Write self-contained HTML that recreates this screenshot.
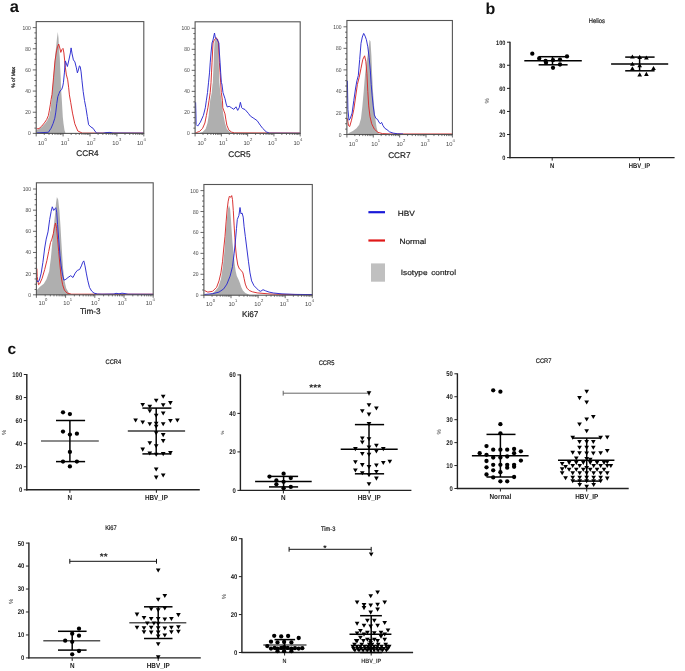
<!DOCTYPE html>
<html><head><meta charset="utf-8"><style>
html,body{margin:0;padding:0;background:#fff;}
body{width:685px;height:671px;overflow:hidden;}
svg{display:block;will-change:transform;text-rendering:geometricPrecision;font-family:"Liberation Sans",sans-serif;}
</style></head><body>
<svg width="685" height="671" viewBox="0 0 685 671" font-family="Liberation Sans, sans-serif">
<rect width="685" height="671" fill="#fff"/>
<text x="9.70" y="12.20" font-size="16.5" text-anchor="start" font-weight="bold" fill="#111" >a</text>
<text x="485.60" y="14.20" font-size="16.0" text-anchor="start" font-weight="bold" fill="#111" >b</text>
<text x="7.40" y="354.00" font-size="15.5" text-anchor="start" font-weight="bold" fill="#111" >c</text>
<polygon points="36.40,133.40 36.40,130.50 38.00,129.60 40.00,128.30 42.50,126.30 45.10,123.50 47.30,120.50 49.10,116.80 50.50,110.00 51.50,100.00 52.00,94.00 52.80,85.00 53.50,76.00 54.30,66.00 55.00,58.00 56.00,48.00 57.00,38.00 57.80,32.00 58.50,38.00 59.00,48.00 59.80,58.00 60.20,68.00 60.70,78.00 61.00,88.00 61.50,95.00 62.00,103.00 62.40,110.00 62.80,117.00 63.50,123.50 64.50,130.20 65.50,133.30 65.50,133.40" fill="#afafaf"/>
<polyline points="36.60,128.90 39.00,128.60 41.70,126.20 44.40,122.90 46.70,119.50 48.40,115.50 49.40,110.10 50.30,104.80 51.10,99.40 52.00,94.50 53.50,77.90 55.00,60.90 56.50,50.90 57.50,46.90 58.70,44.00 59.80,48.00 60.80,52.40 62.00,49.40 63.00,48.40 63.90,52.90 64.70,60.90 65.40,67.90 66.40,74.90 67.70,79.80 68.70,87.80 69.40,94.90 70.70,102.30 72.50,113.10 74.80,123.80 77.80,131.00 82.30,133.10 143.80,133.10" fill="none" stroke="#d82a2a" stroke-width="0.95" stroke-linejoin="round"/>
<polyline points="36.60,132.90 42.00,132.60 48.40,132.30 51.10,128.20 53.10,123.50 54.80,118.20 55.80,112.10 56.80,103.40 57.80,96.70 59.00,93.50 60.00,91.00 61.70,89.50 62.80,86.00 63.40,82.80 64.40,72.90 64.90,65.90 65.40,60.90 66.10,62.90 67.40,66.50 68.90,60.00 70.40,52.90 71.10,47.90 72.10,53.90 73.40,59.90 74.90,61.90 76.40,67.90 77.40,72.90 78.40,69.90 79.40,65.90 80.20,66.50 81.10,71.90 82.00,80.80 83.20,91.60 84.50,100.50 85.90,107.70 87.30,116.60 88.60,124.70 90.90,127.00 93.10,128.30 94.90,131.00 96.60,133.10 103.00,133.20 106.00,132.60 110.00,132.40 113.00,133.00 143.80,133.20" fill="none" stroke="#2a2ad0" stroke-width="0.95" stroke-linejoin="round"/>
<rect x="36.20" y="21.60" width="107.60" height="111.80" fill="none" stroke="#555" stroke-width="1.1"/>
<line x1="32.80" y1="133.40" x2="36.20" y2="133.40" stroke="#444" stroke-width="0.8" />
<line x1="34.40" y1="128.11" x2="36.20" y2="128.11" stroke="#444" stroke-width="0.8" />
<line x1="34.40" y1="122.82" x2="36.20" y2="122.82" stroke="#444" stroke-width="0.8" />
<line x1="34.40" y1="117.53" x2="36.20" y2="117.53" stroke="#444" stroke-width="0.8" />
<line x1="32.80" y1="112.24" x2="36.20" y2="112.24" stroke="#444" stroke-width="0.8" />
<line x1="34.40" y1="106.95" x2="36.20" y2="106.95" stroke="#444" stroke-width="0.8" />
<line x1="34.40" y1="101.66" x2="36.20" y2="101.66" stroke="#444" stroke-width="0.8" />
<line x1="34.40" y1="96.37" x2="36.20" y2="96.37" stroke="#444" stroke-width="0.8" />
<line x1="32.80" y1="91.08" x2="36.20" y2="91.08" stroke="#444" stroke-width="0.8" />
<line x1="34.40" y1="85.79" x2="36.20" y2="85.79" stroke="#444" stroke-width="0.8" />
<line x1="34.40" y1="80.50" x2="36.20" y2="80.50" stroke="#444" stroke-width="0.8" />
<line x1="34.40" y1="75.21" x2="36.20" y2="75.21" stroke="#444" stroke-width="0.8" />
<line x1="32.80" y1="69.92" x2="36.20" y2="69.92" stroke="#444" stroke-width="0.8" />
<line x1="34.40" y1="64.63" x2="36.20" y2="64.63" stroke="#444" stroke-width="0.8" />
<line x1="34.40" y1="59.34" x2="36.20" y2="59.34" stroke="#444" stroke-width="0.8" />
<line x1="34.40" y1="54.05" x2="36.20" y2="54.05" stroke="#444" stroke-width="0.8" />
<line x1="32.80" y1="48.76" x2="36.20" y2="48.76" stroke="#444" stroke-width="0.8" />
<line x1="34.40" y1="43.47" x2="36.20" y2="43.47" stroke="#444" stroke-width="0.8" />
<line x1="34.40" y1="38.18" x2="36.20" y2="38.18" stroke="#444" stroke-width="0.8" />
<line x1="34.40" y1="32.89" x2="36.20" y2="32.89" stroke="#444" stroke-width="0.8" />
<line x1="32.80" y1="27.60" x2="36.20" y2="27.60" stroke="#444" stroke-width="0.8" />
<text transform="translate(30.80 135.40) scale(0.85 1)" font-size="5.8" text-anchor="end" fill="#444">0</text>
<text transform="translate(30.80 114.24) scale(0.85 1)" font-size="5.8" text-anchor="end" fill="#444">20</text>
<text transform="translate(30.80 93.08) scale(0.85 1)" font-size="5.8" text-anchor="end" fill="#444">40</text>
<text transform="translate(30.80 71.92) scale(0.85 1)" font-size="5.8" text-anchor="end" fill="#444">60</text>
<text transform="translate(30.80 50.76) scale(0.85 1)" font-size="5.8" text-anchor="end" fill="#444">80</text>
<text transform="translate(30.80 29.60) scale(0.85 1)" font-size="5.8" text-anchor="end" fill="#444">100</text>
<line x1="36.20" y1="133.40" x2="36.20" y2="136.40" stroke="#444" stroke-width="0.8" />
<line x1="44.30" y1="133.40" x2="44.30" y2="135.00" stroke="#444" stroke-width="0.7" />
<line x1="49.03" y1="133.40" x2="49.03" y2="135.00" stroke="#444" stroke-width="0.7" />
<line x1="52.40" y1="133.40" x2="52.40" y2="135.00" stroke="#444" stroke-width="0.7" />
<line x1="55.00" y1="133.40" x2="55.00" y2="135.00" stroke="#444" stroke-width="0.7" />
<line x1="57.13" y1="133.40" x2="57.13" y2="135.00" stroke="#444" stroke-width="0.7" />
<line x1="58.93" y1="133.40" x2="58.93" y2="135.00" stroke="#444" stroke-width="0.7" />
<line x1="60.49" y1="133.40" x2="60.49" y2="135.00" stroke="#444" stroke-width="0.7" />
<line x1="61.87" y1="133.40" x2="61.87" y2="135.00" stroke="#444" stroke-width="0.7" />
<line x1="63.10" y1="133.40" x2="63.10" y2="136.40" stroke="#444" stroke-width="0.8" />
<line x1="71.20" y1="133.40" x2="71.20" y2="135.00" stroke="#444" stroke-width="0.7" />
<line x1="75.93" y1="133.40" x2="75.93" y2="135.00" stroke="#444" stroke-width="0.7" />
<line x1="79.30" y1="133.40" x2="79.30" y2="135.00" stroke="#444" stroke-width="0.7" />
<line x1="81.90" y1="133.40" x2="81.90" y2="135.00" stroke="#444" stroke-width="0.7" />
<line x1="84.03" y1="133.40" x2="84.03" y2="135.00" stroke="#444" stroke-width="0.7" />
<line x1="85.83" y1="133.40" x2="85.83" y2="135.00" stroke="#444" stroke-width="0.7" />
<line x1="87.39" y1="133.40" x2="87.39" y2="135.00" stroke="#444" stroke-width="0.7" />
<line x1="88.77" y1="133.40" x2="88.77" y2="135.00" stroke="#444" stroke-width="0.7" />
<line x1="90.00" y1="133.40" x2="90.00" y2="136.40" stroke="#444" stroke-width="0.8" />
<line x1="98.10" y1="133.40" x2="98.10" y2="135.00" stroke="#444" stroke-width="0.7" />
<line x1="102.83" y1="133.40" x2="102.83" y2="135.00" stroke="#444" stroke-width="0.7" />
<line x1="106.20" y1="133.40" x2="106.20" y2="135.00" stroke="#444" stroke-width="0.7" />
<line x1="108.80" y1="133.40" x2="108.80" y2="135.00" stroke="#444" stroke-width="0.7" />
<line x1="110.93" y1="133.40" x2="110.93" y2="135.00" stroke="#444" stroke-width="0.7" />
<line x1="112.73" y1="133.40" x2="112.73" y2="135.00" stroke="#444" stroke-width="0.7" />
<line x1="114.29" y1="133.40" x2="114.29" y2="135.00" stroke="#444" stroke-width="0.7" />
<line x1="115.67" y1="133.40" x2="115.67" y2="135.00" stroke="#444" stroke-width="0.7" />
<line x1="116.90" y1="133.40" x2="116.90" y2="136.40" stroke="#444" stroke-width="0.8" />
<line x1="125.00" y1="133.40" x2="125.00" y2="135.00" stroke="#444" stroke-width="0.7" />
<line x1="129.73" y1="133.40" x2="129.73" y2="135.00" stroke="#444" stroke-width="0.7" />
<line x1="133.10" y1="133.40" x2="133.10" y2="135.00" stroke="#444" stroke-width="0.7" />
<line x1="135.70" y1="133.40" x2="135.70" y2="135.00" stroke="#444" stroke-width="0.7" />
<line x1="137.83" y1="133.40" x2="137.83" y2="135.00" stroke="#444" stroke-width="0.7" />
<line x1="139.63" y1="133.40" x2="139.63" y2="135.00" stroke="#444" stroke-width="0.7" />
<line x1="141.19" y1="133.40" x2="141.19" y2="135.00" stroke="#444" stroke-width="0.7" />
<line x1="142.57" y1="133.40" x2="142.57" y2="135.00" stroke="#444" stroke-width="0.7" />
<line x1="143.80" y1="133.40" x2="143.80" y2="136.40" stroke="#444" stroke-width="0.8" />
<text x="37.90" y="144.80" font-size="5.8" fill="#444">10</text>
<text x="44.50" y="140.70" font-size="4.2" fill="#444">0</text>
<text x="60.70" y="144.80" font-size="5.8" fill="#444">10</text>
<text x="67.30" y="140.70" font-size="4.2" fill="#444">1</text>
<text x="86.60" y="144.80" font-size="5.8" fill="#444">10</text>
<text x="93.20" y="140.70" font-size="4.2" fill="#444">2</text>
<text x="112.30" y="144.80" font-size="5.8" fill="#444">10</text>
<text x="118.90" y="140.70" font-size="4.2" fill="#444">3</text>
<text x="136.90" y="144.80" font-size="5.8" fill="#444">10</text>
<text x="143.50" y="140.70" font-size="4.2" fill="#444">4</text>
<text x="87.50" y="155.80" font-size="8.2" text-anchor="middle" font-weight="normal" fill="#222" stroke="#222" stroke-width="0.2">CCR4</text>
<text x="14.90" y="77.30" font-size="5.0" text-anchor="middle" font-weight="normal" fill="#222" transform="rotate(-90 14.9 77.3)" stroke="#222" stroke-width="0.25">% of Max</text>
<polygon points="198.00,133.40 198.00,133.30 202.60,132.10 205.60,129.10 207.50,123.00 208.70,115.40 209.40,107.80 210.20,100.20 211.70,92.70 212.40,85.00 212.80,82.80 213.20,72.90 213.70,62.90 214.00,53.00 214.50,43.00 215.50,39.00 216.40,37.50 217.20,39.00 217.90,43.00 218.40,53.00 218.70,62.90 219.10,72.90 219.40,82.80 219.90,88.00 220.40,92.70 221.60,100.20 222.40,107.80 223.50,115.40 225.00,123.00 226.90,129.10 230.00,132.10 233.00,133.30 233.00,133.40" fill="#afafaf"/>
<polyline points="195.60,132.60 196.50,132.50 199.60,131.40 202.60,128.30 204.90,123.00 206.40,115.40 207.90,107.80 209.10,100.20 210.20,92.60 211.00,82.80 211.50,72.90 212.00,62.90 212.50,53.00 213.00,43.00 214.50,39.50 216.40,38.00 217.50,39.00 218.40,43.00 218.90,53.00 219.40,62.90 220.10,72.90 220.70,82.80 221.30,92.60 222.40,100.20 222.80,107.80 223.90,110.90 225.00,113.90 225.80,119.20 226.90,125.30 228.80,129.90 231.50,132.10 234.50,132.90 300.20,133.10" fill="none" stroke="#d82a2a" stroke-width="0.95" stroke-linejoin="round"/>
<polyline points="195.60,102.30 195.90,113.10 196.10,124.50 197.70,126.10 200.30,122.30 203.40,115.40 205.30,107.80 206.40,100.20 207.50,92.60 208.50,82.80 209.50,72.90 210.20,62.90 211.00,53.00 212.00,43.00 213.00,40.00 214.50,33.00 215.40,38.00 216.90,39.00 218.90,43.00 219.40,53.00 220.10,62.90 220.70,72.90 221.40,82.80 221.90,84.00 223.00,92.70 225.00,98.70 226.20,104.00 227.30,107.00 229.20,106.30 231.50,107.80 233.80,109.30 236.00,106.80 237.70,110.40 239.20,107.70 240.40,102.30 241.70,107.70 242.30,108.40 245.00,109.50 248.30,113.30 250.50,116.20 253.90,118.40 257.20,120.70 260.20,125.10 262.80,128.50 266.20,131.80 269.50,133.20 300.20,133.30" fill="none" stroke="#2a2ad0" stroke-width="0.95" stroke-linejoin="round"/>
<rect x="195.10" y="21.80" width="105.10" height="111.60" fill="none" stroke="#555" stroke-width="1.1"/>
<line x1="191.70" y1="133.40" x2="195.10" y2="133.40" stroke="#444" stroke-width="0.8" />
<line x1="193.30" y1="128.15" x2="195.10" y2="128.15" stroke="#444" stroke-width="0.8" />
<line x1="193.30" y1="122.89" x2="195.10" y2="122.89" stroke="#444" stroke-width="0.8" />
<line x1="193.30" y1="117.64" x2="195.10" y2="117.64" stroke="#444" stroke-width="0.8" />
<line x1="191.70" y1="112.38" x2="195.10" y2="112.38" stroke="#444" stroke-width="0.8" />
<line x1="193.30" y1="107.12" x2="195.10" y2="107.12" stroke="#444" stroke-width="0.8" />
<line x1="193.30" y1="101.87" x2="195.10" y2="101.87" stroke="#444" stroke-width="0.8" />
<line x1="193.30" y1="96.62" x2="195.10" y2="96.62" stroke="#444" stroke-width="0.8" />
<line x1="191.70" y1="91.36" x2="195.10" y2="91.36" stroke="#444" stroke-width="0.8" />
<line x1="193.30" y1="86.10" x2="195.10" y2="86.10" stroke="#444" stroke-width="0.8" />
<line x1="193.30" y1="80.85" x2="195.10" y2="80.85" stroke="#444" stroke-width="0.8" />
<line x1="193.30" y1="75.59" x2="195.10" y2="75.59" stroke="#444" stroke-width="0.8" />
<line x1="191.70" y1="70.34" x2="195.10" y2="70.34" stroke="#444" stroke-width="0.8" />
<line x1="193.30" y1="65.08" x2="195.10" y2="65.08" stroke="#444" stroke-width="0.8" />
<line x1="193.30" y1="59.83" x2="195.10" y2="59.83" stroke="#444" stroke-width="0.8" />
<line x1="193.30" y1="54.57" x2="195.10" y2="54.57" stroke="#444" stroke-width="0.8" />
<line x1="191.70" y1="49.32" x2="195.10" y2="49.32" stroke="#444" stroke-width="0.8" />
<line x1="193.30" y1="44.06" x2="195.10" y2="44.06" stroke="#444" stroke-width="0.8" />
<line x1="193.30" y1="38.81" x2="195.10" y2="38.81" stroke="#444" stroke-width="0.8" />
<line x1="193.30" y1="33.55" x2="195.10" y2="33.55" stroke="#444" stroke-width="0.8" />
<line x1="191.70" y1="28.30" x2="195.10" y2="28.30" stroke="#444" stroke-width="0.8" />
<text transform="translate(189.70 135.40) scale(0.85 1)" font-size="5.8" text-anchor="end" fill="#444">0</text>
<text transform="translate(189.70 114.38) scale(0.85 1)" font-size="5.8" text-anchor="end" fill="#444">20</text>
<text transform="translate(189.70 93.36) scale(0.85 1)" font-size="5.8" text-anchor="end" fill="#444">40</text>
<text transform="translate(189.70 72.34) scale(0.85 1)" font-size="5.8" text-anchor="end" fill="#444">60</text>
<text transform="translate(189.70 51.32) scale(0.85 1)" font-size="5.8" text-anchor="end" fill="#444">80</text>
<text transform="translate(189.70 30.30) scale(0.85 1)" font-size="5.8" text-anchor="end" fill="#444">100</text>
<line x1="195.10" y1="133.40" x2="195.10" y2="136.40" stroke="#444" stroke-width="0.8" />
<line x1="203.01" y1="133.40" x2="203.01" y2="135.00" stroke="#444" stroke-width="0.7" />
<line x1="207.64" y1="133.40" x2="207.64" y2="135.00" stroke="#444" stroke-width="0.7" />
<line x1="210.92" y1="133.40" x2="210.92" y2="135.00" stroke="#444" stroke-width="0.7" />
<line x1="213.47" y1="133.40" x2="213.47" y2="135.00" stroke="#444" stroke-width="0.7" />
<line x1="215.55" y1="133.40" x2="215.55" y2="135.00" stroke="#444" stroke-width="0.7" />
<line x1="217.30" y1="133.40" x2="217.30" y2="135.00" stroke="#444" stroke-width="0.7" />
<line x1="218.83" y1="133.40" x2="218.83" y2="135.00" stroke="#444" stroke-width="0.7" />
<line x1="220.17" y1="133.40" x2="220.17" y2="135.00" stroke="#444" stroke-width="0.7" />
<line x1="221.38" y1="133.40" x2="221.38" y2="136.40" stroke="#444" stroke-width="0.8" />
<line x1="229.28" y1="133.40" x2="229.28" y2="135.00" stroke="#444" stroke-width="0.7" />
<line x1="233.91" y1="133.40" x2="233.91" y2="135.00" stroke="#444" stroke-width="0.7" />
<line x1="237.19" y1="133.40" x2="237.19" y2="135.00" stroke="#444" stroke-width="0.7" />
<line x1="239.74" y1="133.40" x2="239.74" y2="135.00" stroke="#444" stroke-width="0.7" />
<line x1="241.82" y1="133.40" x2="241.82" y2="135.00" stroke="#444" stroke-width="0.7" />
<line x1="243.58" y1="133.40" x2="243.58" y2="135.00" stroke="#444" stroke-width="0.7" />
<line x1="245.10" y1="133.40" x2="245.10" y2="135.00" stroke="#444" stroke-width="0.7" />
<line x1="246.45" y1="133.40" x2="246.45" y2="135.00" stroke="#444" stroke-width="0.7" />
<line x1="247.65" y1="133.40" x2="247.65" y2="136.40" stroke="#444" stroke-width="0.8" />
<line x1="255.56" y1="133.40" x2="255.56" y2="135.00" stroke="#444" stroke-width="0.7" />
<line x1="260.19" y1="133.40" x2="260.19" y2="135.00" stroke="#444" stroke-width="0.7" />
<line x1="263.47" y1="133.40" x2="263.47" y2="135.00" stroke="#444" stroke-width="0.7" />
<line x1="266.02" y1="133.40" x2="266.02" y2="135.00" stroke="#444" stroke-width="0.7" />
<line x1="268.10" y1="133.40" x2="268.10" y2="135.00" stroke="#444" stroke-width="0.7" />
<line x1="269.85" y1="133.40" x2="269.85" y2="135.00" stroke="#444" stroke-width="0.7" />
<line x1="271.38" y1="133.40" x2="271.38" y2="135.00" stroke="#444" stroke-width="0.7" />
<line x1="272.72" y1="133.40" x2="272.72" y2="135.00" stroke="#444" stroke-width="0.7" />
<line x1="273.92" y1="133.40" x2="273.92" y2="136.40" stroke="#444" stroke-width="0.8" />
<line x1="281.83" y1="133.40" x2="281.83" y2="135.00" stroke="#444" stroke-width="0.7" />
<line x1="286.46" y1="133.40" x2="286.46" y2="135.00" stroke="#444" stroke-width="0.7" />
<line x1="289.74" y1="133.40" x2="289.74" y2="135.00" stroke="#444" stroke-width="0.7" />
<line x1="292.29" y1="133.40" x2="292.29" y2="135.00" stroke="#444" stroke-width="0.7" />
<line x1="294.37" y1="133.40" x2="294.37" y2="135.00" stroke="#444" stroke-width="0.7" />
<line x1="296.13" y1="133.40" x2="296.13" y2="135.00" stroke="#444" stroke-width="0.7" />
<line x1="297.65" y1="133.40" x2="297.65" y2="135.00" stroke="#444" stroke-width="0.7" />
<line x1="299.00" y1="133.40" x2="299.00" y2="135.00" stroke="#444" stroke-width="0.7" />
<line x1="300.20" y1="133.40" x2="300.20" y2="136.40" stroke="#444" stroke-width="0.8" />
<text x="197.40" y="144.70" font-size="5.8" fill="#444">10</text>
<text x="204.00" y="140.60" font-size="4.2" fill="#444">0</text>
<text x="218.90" y="144.70" font-size="5.8" fill="#444">10</text>
<text x="225.50" y="140.60" font-size="4.2" fill="#444">1</text>
<text x="243.40" y="144.70" font-size="5.8" fill="#444">10</text>
<text x="250.00" y="140.60" font-size="4.2" fill="#444">2</text>
<text x="268.00" y="144.70" font-size="5.8" fill="#444">10</text>
<text x="274.60" y="140.60" font-size="4.2" fill="#444">3</text>
<text x="293.40" y="144.70" font-size="5.8" fill="#444">10</text>
<text x="300.00" y="140.60" font-size="4.2" fill="#444">4</text>
<text x="239.40" y="156.90" font-size="8.2" text-anchor="middle" font-weight="normal" fill="#222" stroke="#222" stroke-width="0.2">CCR5</text>
<polygon points="347.60,134.50 347.60,134.00 349.40,132.80 352.90,131.00 356.50,128.30 359.20,124.70 361.00,118.40 362.40,105.90 363.70,91.60 365.10,73.70 366.40,63.00 367.60,55.80 368.70,46.80 369.60,39.70 370.50,41.50 371.40,55.80 372.10,73.70 373.00,91.60 374.10,105.90 375.30,118.40 376.60,127.40 378.00,132.80 379.80,134.50 379.80,134.50" fill="#afafaf"/>
<polyline points="347.40,118.40 348.50,125.60 349.70,126.50 351.50,120.20 353.80,109.50 355.60,97.00 357.40,84.40 359.20,77.30 361.00,68.30 362.80,59.40 364.60,55.80 365.80,61.20 366.90,73.70 367.80,91.60 368.70,105.90 370.00,116.60 371.70,123.80 374.40,129.20 378.00,132.40 382.50,133.60 390.50,134.00 452.40,134.00" fill="none" stroke="#d82a2a" stroke-width="0.95" stroke-linejoin="round"/>
<polyline points="347.40,80.80 347.90,109.50 349.00,120.20 350.30,118.40 352.10,113.10 353.80,100.50 355.60,88.00 356.90,80.80 358.30,75.50 359.70,59.40 361.00,43.30 362.30,37.00 363.70,33.40 365.10,36.10 366.40,39.70 367.80,46.80 369.10,57.60 370.30,70.10 371.20,84.40 372.10,95.20 373.20,105.90 374.40,114.90 375.90,118.40 377.50,119.30 378.90,122.00 380.30,123.80 381.60,122.40 383.00,125.60 384.80,128.30 387.00,129.70 389.60,131.90 393.20,133.10 397.70,133.80 403.10,134.00" fill="none" stroke="#2a2ad0" stroke-width="0.95" stroke-linejoin="round"/>
<rect x="346.90" y="20.50" width="105.50" height="114.00" fill="none" stroke="#555" stroke-width="1.1"/>
<line x1="343.50" y1="134.50" x2="346.90" y2="134.50" stroke="#444" stroke-width="0.8" />
<line x1="345.10" y1="129.12" x2="346.90" y2="129.12" stroke="#444" stroke-width="0.8" />
<line x1="345.10" y1="123.73" x2="346.90" y2="123.73" stroke="#444" stroke-width="0.8" />
<line x1="345.10" y1="118.34" x2="346.90" y2="118.34" stroke="#444" stroke-width="0.8" />
<line x1="343.50" y1="112.96" x2="346.90" y2="112.96" stroke="#444" stroke-width="0.8" />
<line x1="345.10" y1="107.58" x2="346.90" y2="107.58" stroke="#444" stroke-width="0.8" />
<line x1="345.10" y1="102.19" x2="346.90" y2="102.19" stroke="#444" stroke-width="0.8" />
<line x1="345.10" y1="96.81" x2="346.90" y2="96.81" stroke="#444" stroke-width="0.8" />
<line x1="343.50" y1="91.42" x2="346.90" y2="91.42" stroke="#444" stroke-width="0.8" />
<line x1="345.10" y1="86.03" x2="346.90" y2="86.03" stroke="#444" stroke-width="0.8" />
<line x1="345.10" y1="80.65" x2="346.90" y2="80.65" stroke="#444" stroke-width="0.8" />
<line x1="345.10" y1="75.27" x2="346.90" y2="75.27" stroke="#444" stroke-width="0.8" />
<line x1="343.50" y1="69.88" x2="346.90" y2="69.88" stroke="#444" stroke-width="0.8" />
<line x1="345.10" y1="64.50" x2="346.90" y2="64.50" stroke="#444" stroke-width="0.8" />
<line x1="345.10" y1="59.11" x2="346.90" y2="59.11" stroke="#444" stroke-width="0.8" />
<line x1="345.10" y1="53.73" x2="346.90" y2="53.73" stroke="#444" stroke-width="0.8" />
<line x1="343.50" y1="48.34" x2="346.90" y2="48.34" stroke="#444" stroke-width="0.8" />
<line x1="345.10" y1="42.95" x2="346.90" y2="42.95" stroke="#444" stroke-width="0.8" />
<line x1="345.10" y1="37.57" x2="346.90" y2="37.57" stroke="#444" stroke-width="0.8" />
<line x1="345.10" y1="32.19" x2="346.90" y2="32.19" stroke="#444" stroke-width="0.8" />
<line x1="343.50" y1="26.80" x2="346.90" y2="26.80" stroke="#444" stroke-width="0.8" />
<text transform="translate(341.50 136.50) scale(0.85 1)" font-size="5.8" text-anchor="end" fill="#444">0</text>
<text transform="translate(341.50 114.96) scale(0.85 1)" font-size="5.8" text-anchor="end" fill="#444">20</text>
<text transform="translate(341.50 93.42) scale(0.85 1)" font-size="5.8" text-anchor="end" fill="#444">40</text>
<text transform="translate(341.50 71.88) scale(0.85 1)" font-size="5.8" text-anchor="end" fill="#444">60</text>
<text transform="translate(341.50 50.34) scale(0.85 1)" font-size="5.8" text-anchor="end" fill="#444">80</text>
<text transform="translate(341.50 28.80) scale(0.85 1)" font-size="5.8" text-anchor="end" fill="#444">100</text>
<line x1="346.90" y1="134.50" x2="346.90" y2="137.50" stroke="#444" stroke-width="0.8" />
<line x1="354.84" y1="134.50" x2="354.84" y2="136.10" stroke="#444" stroke-width="0.7" />
<line x1="359.48" y1="134.50" x2="359.48" y2="136.10" stroke="#444" stroke-width="0.7" />
<line x1="362.78" y1="134.50" x2="362.78" y2="136.10" stroke="#444" stroke-width="0.7" />
<line x1="365.34" y1="134.50" x2="365.34" y2="136.10" stroke="#444" stroke-width="0.7" />
<line x1="367.42" y1="134.50" x2="367.42" y2="136.10" stroke="#444" stroke-width="0.7" />
<line x1="369.19" y1="134.50" x2="369.19" y2="136.10" stroke="#444" stroke-width="0.7" />
<line x1="370.72" y1="134.50" x2="370.72" y2="136.10" stroke="#444" stroke-width="0.7" />
<line x1="372.07" y1="134.50" x2="372.07" y2="136.10" stroke="#444" stroke-width="0.7" />
<line x1="373.27" y1="134.50" x2="373.27" y2="137.50" stroke="#444" stroke-width="0.8" />
<line x1="381.21" y1="134.50" x2="381.21" y2="136.10" stroke="#444" stroke-width="0.7" />
<line x1="385.86" y1="134.50" x2="385.86" y2="136.10" stroke="#444" stroke-width="0.7" />
<line x1="389.15" y1="134.50" x2="389.15" y2="136.10" stroke="#444" stroke-width="0.7" />
<line x1="391.71" y1="134.50" x2="391.71" y2="136.10" stroke="#444" stroke-width="0.7" />
<line x1="393.80" y1="134.50" x2="393.80" y2="136.10" stroke="#444" stroke-width="0.7" />
<line x1="395.56" y1="134.50" x2="395.56" y2="136.10" stroke="#444" stroke-width="0.7" />
<line x1="397.09" y1="134.50" x2="397.09" y2="136.10" stroke="#444" stroke-width="0.7" />
<line x1="398.44" y1="134.50" x2="398.44" y2="136.10" stroke="#444" stroke-width="0.7" />
<line x1="399.65" y1="134.50" x2="399.65" y2="137.50" stroke="#444" stroke-width="0.8" />
<line x1="407.59" y1="134.50" x2="407.59" y2="136.10" stroke="#444" stroke-width="0.7" />
<line x1="412.23" y1="134.50" x2="412.23" y2="136.10" stroke="#444" stroke-width="0.7" />
<line x1="415.53" y1="134.50" x2="415.53" y2="136.10" stroke="#444" stroke-width="0.7" />
<line x1="418.09" y1="134.50" x2="418.09" y2="136.10" stroke="#444" stroke-width="0.7" />
<line x1="420.17" y1="134.50" x2="420.17" y2="136.10" stroke="#444" stroke-width="0.7" />
<line x1="421.94" y1="134.50" x2="421.94" y2="136.10" stroke="#444" stroke-width="0.7" />
<line x1="423.47" y1="134.50" x2="423.47" y2="136.10" stroke="#444" stroke-width="0.7" />
<line x1="424.82" y1="134.50" x2="424.82" y2="136.10" stroke="#444" stroke-width="0.7" />
<line x1="426.02" y1="134.50" x2="426.02" y2="137.50" stroke="#444" stroke-width="0.8" />
<line x1="433.96" y1="134.50" x2="433.96" y2="136.10" stroke="#444" stroke-width="0.7" />
<line x1="438.61" y1="134.50" x2="438.61" y2="136.10" stroke="#444" stroke-width="0.7" />
<line x1="441.90" y1="134.50" x2="441.90" y2="136.10" stroke="#444" stroke-width="0.7" />
<line x1="444.46" y1="134.50" x2="444.46" y2="136.10" stroke="#444" stroke-width="0.7" />
<line x1="446.55" y1="134.50" x2="446.55" y2="136.10" stroke="#444" stroke-width="0.7" />
<line x1="448.31" y1="134.50" x2="448.31" y2="136.10" stroke="#444" stroke-width="0.7" />
<line x1="449.84" y1="134.50" x2="449.84" y2="136.10" stroke="#444" stroke-width="0.7" />
<line x1="451.19" y1="134.50" x2="451.19" y2="136.10" stroke="#444" stroke-width="0.7" />
<line x1="452.40" y1="134.50" x2="452.40" y2="137.50" stroke="#444" stroke-width="0.8" />
<text x="348.80" y="146.20" font-size="5.8" fill="#444">10</text>
<text x="355.40" y="142.10" font-size="4.2" fill="#444">0</text>
<text x="371.20" y="146.20" font-size="5.8" fill="#444">10</text>
<text x="377.80" y="142.10" font-size="4.2" fill="#444">1</text>
<text x="396.40" y="146.20" font-size="5.8" fill="#444">10</text>
<text x="403.00" y="142.10" font-size="4.2" fill="#444">2</text>
<text x="420.60" y="146.20" font-size="5.8" fill="#444">10</text>
<text x="427.20" y="142.10" font-size="4.2" fill="#444">3</text>
<text x="446.00" y="146.20" font-size="5.8" fill="#444">10</text>
<text x="452.60" y="142.10" font-size="4.2" fill="#444">4</text>
<text x="399.30" y="158.30" font-size="8.2" text-anchor="middle" font-weight="normal" fill="#222" stroke="#222" stroke-width="0.2">CCR7</text>
<polygon points="36.90,294.80 36.90,290.20 37.60,289.20 40.30,286.50 43.80,283.80 46.50,279.30 49.20,271.30 51.00,257.00 52.40,240.90 53.70,226.50 54.90,215.80 56.00,203.30 56.90,197.00 58.20,199.70 59.40,210.40 60.50,226.50 61.40,242.60 62.30,257.00 63.20,269.50 64.40,280.20 66.20,288.30 68.90,293.10 71.60,294.50 71.60,294.80" fill="#afafaf"/>
<polyline points="36.90,268.60 37.20,276.60 38.50,284.70 39.70,283.80 42.10,278.40 44.70,269.50 46.90,260.50 48.70,251.60 50.50,242.60 51.90,239.10 53.30,233.70 54.60,226.50 55.50,223.00 56.60,228.30 57.60,239.10 58.70,251.60 60.00,265.90 61.20,276.60 62.60,284.70 64.40,290.10 67.10,293.10 71.60,294.20 153.20,294.20" fill="none" stroke="#d82a2a" stroke-width="0.95" stroke-linejoin="round"/>
<polyline points="36.90,280.20 37.90,282.00 39.40,280.20 41.20,273.10 42.90,262.30 44.70,248.00 46.20,239.10 48.00,231.90 49.70,219.40 51.20,211.30 52.30,206.80 53.70,210.40 55.10,208.60 55.80,207.70 56.70,212.20 57.60,224.70 58.70,239.10 60.00,255.20 61.20,265.90 62.60,274.90 63.90,280.20 65.90,279.30 68.00,277.50 70.70,275.70 73.00,277.50 75.20,273.10 77.30,270.40 79.60,269.50 81.40,265.90 82.70,262.30 83.80,260.90 85.00,265.90 86.30,273.10 87.70,280.20 89.50,287.40 91.60,291.00 94.00,293.10 97.50,294.00 102.00,294.20 114.00,294.00 116.00,293.30 119.00,293.80 122.00,293.20 125.00,293.60 128.00,294.20 153.20,294.30" fill="none" stroke="#2a2ad0" stroke-width="0.95" stroke-linejoin="round"/>
<rect x="36.40" y="182.80" width="116.80" height="112.00" fill="none" stroke="#555" stroke-width="1.1"/>
<line x1="33.00" y1="294.80" x2="36.40" y2="294.80" stroke="#444" stroke-width="0.8" />
<line x1="34.60" y1="289.51" x2="36.40" y2="289.51" stroke="#444" stroke-width="0.8" />
<line x1="34.60" y1="284.22" x2="36.40" y2="284.22" stroke="#444" stroke-width="0.8" />
<line x1="34.60" y1="278.93" x2="36.40" y2="278.93" stroke="#444" stroke-width="0.8" />
<line x1="33.00" y1="273.64" x2="36.40" y2="273.64" stroke="#444" stroke-width="0.8" />
<line x1="34.60" y1="268.35" x2="36.40" y2="268.35" stroke="#444" stroke-width="0.8" />
<line x1="34.60" y1="263.06" x2="36.40" y2="263.06" stroke="#444" stroke-width="0.8" />
<line x1="34.60" y1="257.77" x2="36.40" y2="257.77" stroke="#444" stroke-width="0.8" />
<line x1="33.00" y1="252.48" x2="36.40" y2="252.48" stroke="#444" stroke-width="0.8" />
<line x1="34.60" y1="247.19" x2="36.40" y2="247.19" stroke="#444" stroke-width="0.8" />
<line x1="34.60" y1="241.90" x2="36.40" y2="241.90" stroke="#444" stroke-width="0.8" />
<line x1="34.60" y1="236.61" x2="36.40" y2="236.61" stroke="#444" stroke-width="0.8" />
<line x1="33.00" y1="231.32" x2="36.40" y2="231.32" stroke="#444" stroke-width="0.8" />
<line x1="34.60" y1="226.03" x2="36.40" y2="226.03" stroke="#444" stroke-width="0.8" />
<line x1="34.60" y1="220.74" x2="36.40" y2="220.74" stroke="#444" stroke-width="0.8" />
<line x1="34.60" y1="215.45" x2="36.40" y2="215.45" stroke="#444" stroke-width="0.8" />
<line x1="33.00" y1="210.16" x2="36.40" y2="210.16" stroke="#444" stroke-width="0.8" />
<line x1="34.60" y1="204.87" x2="36.40" y2="204.87" stroke="#444" stroke-width="0.8" />
<line x1="34.60" y1="199.58" x2="36.40" y2="199.58" stroke="#444" stroke-width="0.8" />
<line x1="34.60" y1="194.29" x2="36.40" y2="194.29" stroke="#444" stroke-width="0.8" />
<line x1="33.00" y1="189.00" x2="36.40" y2="189.00" stroke="#444" stroke-width="0.8" />
<text transform="translate(31.00 296.80) scale(0.85 1)" font-size="5.8" text-anchor="end" fill="#444">0</text>
<text transform="translate(31.00 275.64) scale(0.85 1)" font-size="5.8" text-anchor="end" fill="#444">20</text>
<text transform="translate(31.00 254.48) scale(0.85 1)" font-size="5.8" text-anchor="end" fill="#444">40</text>
<text transform="translate(31.00 233.32) scale(0.85 1)" font-size="5.8" text-anchor="end" fill="#444">60</text>
<text transform="translate(31.00 212.16) scale(0.85 1)" font-size="5.8" text-anchor="end" fill="#444">80</text>
<text transform="translate(31.00 191.00) scale(0.85 1)" font-size="5.8" text-anchor="end" fill="#444">100</text>
<line x1="36.40" y1="294.80" x2="36.40" y2="297.80" stroke="#444" stroke-width="0.8" />
<line x1="45.19" y1="294.80" x2="45.19" y2="296.40" stroke="#444" stroke-width="0.7" />
<line x1="50.33" y1="294.80" x2="50.33" y2="296.40" stroke="#444" stroke-width="0.7" />
<line x1="53.98" y1="294.80" x2="53.98" y2="296.40" stroke="#444" stroke-width="0.7" />
<line x1="56.81" y1="294.80" x2="56.81" y2="296.40" stroke="#444" stroke-width="0.7" />
<line x1="59.12" y1="294.80" x2="59.12" y2="296.40" stroke="#444" stroke-width="0.7" />
<line x1="61.08" y1="294.80" x2="61.08" y2="296.40" stroke="#444" stroke-width="0.7" />
<line x1="62.77" y1="294.80" x2="62.77" y2="296.40" stroke="#444" stroke-width="0.7" />
<line x1="64.26" y1="294.80" x2="64.26" y2="296.40" stroke="#444" stroke-width="0.7" />
<line x1="65.60" y1="294.80" x2="65.60" y2="297.80" stroke="#444" stroke-width="0.8" />
<line x1="74.39" y1="294.80" x2="74.39" y2="296.40" stroke="#444" stroke-width="0.7" />
<line x1="79.53" y1="294.80" x2="79.53" y2="296.40" stroke="#444" stroke-width="0.7" />
<line x1="83.18" y1="294.80" x2="83.18" y2="296.40" stroke="#444" stroke-width="0.7" />
<line x1="86.01" y1="294.80" x2="86.01" y2="296.40" stroke="#444" stroke-width="0.7" />
<line x1="88.32" y1="294.80" x2="88.32" y2="296.40" stroke="#444" stroke-width="0.7" />
<line x1="90.28" y1="294.80" x2="90.28" y2="296.40" stroke="#444" stroke-width="0.7" />
<line x1="91.97" y1="294.80" x2="91.97" y2="296.40" stroke="#444" stroke-width="0.7" />
<line x1="93.46" y1="294.80" x2="93.46" y2="296.40" stroke="#444" stroke-width="0.7" />
<line x1="94.80" y1="294.80" x2="94.80" y2="297.80" stroke="#444" stroke-width="0.8" />
<line x1="103.59" y1="294.80" x2="103.59" y2="296.40" stroke="#444" stroke-width="0.7" />
<line x1="108.73" y1="294.80" x2="108.73" y2="296.40" stroke="#444" stroke-width="0.7" />
<line x1="112.38" y1="294.80" x2="112.38" y2="296.40" stroke="#444" stroke-width="0.7" />
<line x1="115.21" y1="294.80" x2="115.21" y2="296.40" stroke="#444" stroke-width="0.7" />
<line x1="117.52" y1="294.80" x2="117.52" y2="296.40" stroke="#444" stroke-width="0.7" />
<line x1="119.48" y1="294.80" x2="119.48" y2="296.40" stroke="#444" stroke-width="0.7" />
<line x1="121.17" y1="294.80" x2="121.17" y2="296.40" stroke="#444" stroke-width="0.7" />
<line x1="122.66" y1="294.80" x2="122.66" y2="296.40" stroke="#444" stroke-width="0.7" />
<line x1="124.00" y1="294.80" x2="124.00" y2="297.80" stroke="#444" stroke-width="0.8" />
<line x1="132.79" y1="294.80" x2="132.79" y2="296.40" stroke="#444" stroke-width="0.7" />
<line x1="137.93" y1="294.80" x2="137.93" y2="296.40" stroke="#444" stroke-width="0.7" />
<line x1="141.58" y1="294.80" x2="141.58" y2="296.40" stroke="#444" stroke-width="0.7" />
<line x1="144.41" y1="294.80" x2="144.41" y2="296.40" stroke="#444" stroke-width="0.7" />
<line x1="146.72" y1="294.80" x2="146.72" y2="296.40" stroke="#444" stroke-width="0.7" />
<line x1="148.68" y1="294.80" x2="148.68" y2="296.40" stroke="#444" stroke-width="0.7" />
<line x1="150.37" y1="294.80" x2="150.37" y2="296.40" stroke="#444" stroke-width="0.7" />
<line x1="151.86" y1="294.80" x2="151.86" y2="296.40" stroke="#444" stroke-width="0.7" />
<line x1="153.20" y1="294.80" x2="153.20" y2="297.80" stroke="#444" stroke-width="0.8" />
<text x="38.50" y="305.20" font-size="5.8" fill="#444">10</text>
<text x="45.10" y="301.10" font-size="4.2" fill="#444">0</text>
<text x="63.20" y="305.20" font-size="5.8" fill="#444">10</text>
<text x="69.80" y="301.10" font-size="4.2" fill="#444">1</text>
<text x="91.10" y="305.20" font-size="5.8" fill="#444">10</text>
<text x="97.70" y="301.10" font-size="4.2" fill="#444">2</text>
<text x="117.70" y="305.20" font-size="5.8" fill="#444">10</text>
<text x="124.30" y="301.10" font-size="4.2" fill="#444">3</text>
<text x="145.80" y="305.20" font-size="5.8" fill="#444">10</text>
<text x="152.40" y="301.10" font-size="4.2" fill="#444">4</text>
<text x="90.20" y="314.00" font-size="8.2" text-anchor="middle" font-weight="normal" fill="#222" stroke="#222" stroke-width="0.2">Tim-3</text>
<polygon points="204.40,295.20 204.40,294.80 209.20,294.40 212.00,293.20 214.20,292.10 218.20,287.30 220.90,279.30 222.90,266.60 224.50,250.60 225.60,234.70 226.90,218.70 228.00,209.10 229.00,205.20 230.10,209.10 230.90,218.70 231.70,231.50 232.50,242.60 233.60,253.80 234.60,263.40 235.70,271.30 236.80,276.10 238.40,279.30 240.00,283.30 241.30,287.30 242.90,290.50 245.30,292.90 249.40,294.80 249.40,295.20" fill="#afafaf"/>
<polyline points="204.40,290.50 207.80,292.10 212.60,291.30 216.60,287.30 219.00,280.90 220.90,272.90 222.50,261.80 223.70,249.00 225.00,236.30 226.10,221.90 227.20,209.10 228.20,201.20 229.30,196.40 230.90,197.20 231.70,195.60 232.50,199.60 233.30,210.70 234.10,225.10 234.90,237.80 235.70,249.00 236.50,257.00 237.80,265.00 239.40,268.90 241.30,270.50 242.90,272.90 244.10,278.50 245.30,284.10 246.90,288.10 249.30,290.50 252.40,291.80 257.20,292.90 263.00,293.40 270.00,294.00 282.00,294.40 312.30,294.60" fill="none" stroke="#d82a2a" stroke-width="0.95" stroke-linejoin="round"/>
<polyline points="204.40,294.50 212.60,293.70 219.00,292.10 223.70,288.90 226.90,284.10 230.10,276.10 232.50,266.60 234.10,253.80 235.40,241.00 236.50,228.30 237.30,219.50 238.90,215.50 240.00,207.50 241.00,213.90 242.10,213.10 243.20,217.10 244.10,226.70 245.30,236.30 246.90,249.00 248.50,261.80 250.00,272.90 251.60,280.90 254.00,285.70 256.40,288.10 258.80,290.50 260.70,291.30 263.00,289.70 265.50,290.80 269.10,292.10 273.60,293.00 282.00,293.90 295.00,294.40 312.30,294.60" fill="none" stroke="#2a2ad0" stroke-width="0.95" stroke-linejoin="round"/>
<rect x="203.90" y="184.50" width="108.40" height="110.70" fill="none" stroke="#555" stroke-width="1.1"/>
<line x1="200.50" y1="295.20" x2="203.90" y2="295.20" stroke="#444" stroke-width="0.8" />
<line x1="202.10" y1="289.97" x2="203.90" y2="289.97" stroke="#444" stroke-width="0.8" />
<line x1="202.10" y1="284.74" x2="203.90" y2="284.74" stroke="#444" stroke-width="0.8" />
<line x1="202.10" y1="279.51" x2="203.90" y2="279.51" stroke="#444" stroke-width="0.8" />
<line x1="200.50" y1="274.28" x2="203.90" y2="274.28" stroke="#444" stroke-width="0.8" />
<line x1="202.10" y1="269.05" x2="203.90" y2="269.05" stroke="#444" stroke-width="0.8" />
<line x1="202.10" y1="263.82" x2="203.90" y2="263.82" stroke="#444" stroke-width="0.8" />
<line x1="202.10" y1="258.59" x2="203.90" y2="258.59" stroke="#444" stroke-width="0.8" />
<line x1="200.50" y1="253.36" x2="203.90" y2="253.36" stroke="#444" stroke-width="0.8" />
<line x1="202.10" y1="248.13" x2="203.90" y2="248.13" stroke="#444" stroke-width="0.8" />
<line x1="202.10" y1="242.90" x2="203.90" y2="242.90" stroke="#444" stroke-width="0.8" />
<line x1="202.10" y1="237.67" x2="203.90" y2="237.67" stroke="#444" stroke-width="0.8" />
<line x1="200.50" y1="232.44" x2="203.90" y2="232.44" stroke="#444" stroke-width="0.8" />
<line x1="202.10" y1="227.21" x2="203.90" y2="227.21" stroke="#444" stroke-width="0.8" />
<line x1="202.10" y1="221.98" x2="203.90" y2="221.98" stroke="#444" stroke-width="0.8" />
<line x1="202.10" y1="216.75" x2="203.90" y2="216.75" stroke="#444" stroke-width="0.8" />
<line x1="200.50" y1="211.52" x2="203.90" y2="211.52" stroke="#444" stroke-width="0.8" />
<line x1="202.10" y1="206.29" x2="203.90" y2="206.29" stroke="#444" stroke-width="0.8" />
<line x1="202.10" y1="201.06" x2="203.90" y2="201.06" stroke="#444" stroke-width="0.8" />
<line x1="202.10" y1="195.83" x2="203.90" y2="195.83" stroke="#444" stroke-width="0.8" />
<line x1="200.50" y1="190.60" x2="203.90" y2="190.60" stroke="#444" stroke-width="0.8" />
<text transform="translate(198.50 297.20) scale(0.85 1)" font-size="5.8" text-anchor="end" fill="#444">0</text>
<text transform="translate(198.50 276.28) scale(0.85 1)" font-size="5.8" text-anchor="end" fill="#444">20</text>
<text transform="translate(198.50 255.36) scale(0.85 1)" font-size="5.8" text-anchor="end" fill="#444">40</text>
<text transform="translate(198.50 234.44) scale(0.85 1)" font-size="5.8" text-anchor="end" fill="#444">60</text>
<text transform="translate(198.50 213.52) scale(0.85 1)" font-size="5.8" text-anchor="end" fill="#444">80</text>
<text transform="translate(198.50 192.60) scale(0.85 1)" font-size="5.8" text-anchor="end" fill="#444">100</text>
<line x1="203.90" y1="295.20" x2="203.90" y2="298.20" stroke="#444" stroke-width="0.8" />
<line x1="212.06" y1="295.20" x2="212.06" y2="296.80" stroke="#444" stroke-width="0.7" />
<line x1="216.83" y1="295.20" x2="216.83" y2="296.80" stroke="#444" stroke-width="0.7" />
<line x1="220.22" y1="295.20" x2="220.22" y2="296.80" stroke="#444" stroke-width="0.7" />
<line x1="222.84" y1="295.20" x2="222.84" y2="296.80" stroke="#444" stroke-width="0.7" />
<line x1="224.99" y1="295.20" x2="224.99" y2="296.80" stroke="#444" stroke-width="0.7" />
<line x1="226.80" y1="295.20" x2="226.80" y2="296.80" stroke="#444" stroke-width="0.7" />
<line x1="228.37" y1="295.20" x2="228.37" y2="296.80" stroke="#444" stroke-width="0.7" />
<line x1="229.76" y1="295.20" x2="229.76" y2="296.80" stroke="#444" stroke-width="0.7" />
<line x1="231.00" y1="295.20" x2="231.00" y2="298.20" stroke="#444" stroke-width="0.8" />
<line x1="239.16" y1="295.20" x2="239.16" y2="296.80" stroke="#444" stroke-width="0.7" />
<line x1="243.93" y1="295.20" x2="243.93" y2="296.80" stroke="#444" stroke-width="0.7" />
<line x1="247.32" y1="295.20" x2="247.32" y2="296.80" stroke="#444" stroke-width="0.7" />
<line x1="249.94" y1="295.20" x2="249.94" y2="296.80" stroke="#444" stroke-width="0.7" />
<line x1="252.09" y1="295.20" x2="252.09" y2="296.80" stroke="#444" stroke-width="0.7" />
<line x1="253.90" y1="295.20" x2="253.90" y2="296.80" stroke="#444" stroke-width="0.7" />
<line x1="255.47" y1="295.20" x2="255.47" y2="296.80" stroke="#444" stroke-width="0.7" />
<line x1="256.86" y1="295.20" x2="256.86" y2="296.80" stroke="#444" stroke-width="0.7" />
<line x1="258.10" y1="295.20" x2="258.10" y2="298.20" stroke="#444" stroke-width="0.8" />
<line x1="266.26" y1="295.20" x2="266.26" y2="296.80" stroke="#444" stroke-width="0.7" />
<line x1="271.03" y1="295.20" x2="271.03" y2="296.80" stroke="#444" stroke-width="0.7" />
<line x1="274.42" y1="295.20" x2="274.42" y2="296.80" stroke="#444" stroke-width="0.7" />
<line x1="277.04" y1="295.20" x2="277.04" y2="296.80" stroke="#444" stroke-width="0.7" />
<line x1="279.19" y1="295.20" x2="279.19" y2="296.80" stroke="#444" stroke-width="0.7" />
<line x1="281.00" y1="295.20" x2="281.00" y2="296.80" stroke="#444" stroke-width="0.7" />
<line x1="282.57" y1="295.20" x2="282.57" y2="296.80" stroke="#444" stroke-width="0.7" />
<line x1="283.96" y1="295.20" x2="283.96" y2="296.80" stroke="#444" stroke-width="0.7" />
<line x1="285.20" y1="295.20" x2="285.20" y2="298.20" stroke="#444" stroke-width="0.8" />
<line x1="293.36" y1="295.20" x2="293.36" y2="296.80" stroke="#444" stroke-width="0.7" />
<line x1="298.13" y1="295.20" x2="298.13" y2="296.80" stroke="#444" stroke-width="0.7" />
<line x1="301.52" y1="295.20" x2="301.52" y2="296.80" stroke="#444" stroke-width="0.7" />
<line x1="304.14" y1="295.20" x2="304.14" y2="296.80" stroke="#444" stroke-width="0.7" />
<line x1="306.29" y1="295.20" x2="306.29" y2="296.80" stroke="#444" stroke-width="0.7" />
<line x1="308.10" y1="295.20" x2="308.10" y2="296.80" stroke="#444" stroke-width="0.7" />
<line x1="309.67" y1="295.20" x2="309.67" y2="296.80" stroke="#444" stroke-width="0.7" />
<line x1="311.06" y1="295.20" x2="311.06" y2="296.80" stroke="#444" stroke-width="0.7" />
<line x1="312.30" y1="295.20" x2="312.30" y2="298.20" stroke="#444" stroke-width="0.8" />
<text x="206.10" y="305.60" font-size="5.8" fill="#444">10</text>
<text x="212.70" y="301.50" font-size="4.2" fill="#444">0</text>
<text x="228.40" y="305.60" font-size="5.8" fill="#444">10</text>
<text x="235.00" y="301.50" font-size="4.2" fill="#444">1</text>
<text x="254.30" y="305.60" font-size="5.8" fill="#444">10</text>
<text x="260.90" y="301.50" font-size="4.2" fill="#444">2</text>
<text x="279.70" y="305.60" font-size="5.8" fill="#444">10</text>
<text x="286.30" y="301.50" font-size="4.2" fill="#444">3</text>
<text x="305.10" y="305.60" font-size="5.8" fill="#444">10</text>
<text x="311.70" y="301.50" font-size="4.2" fill="#444">4</text>
<text x="250.20" y="317.20" font-size="8.2" text-anchor="middle" font-weight="normal" fill="#222" stroke="#222" stroke-width="0.2">Ki67</text>
<line x1="368.40" y1="212.20" x2="385.00" y2="212.20" stroke="#1a1ad8" stroke-width="2.2" />
<text transform="translate(397.7 215.9) scale(1 0.9)" font-size="8.3" fill="#1a1a1a" stroke="#1a1a1a" stroke-width="0.2">HBV</text>
<line x1="368.40" y1="240.50" x2="385.00" y2="240.50" stroke="#e01818" stroke-width="2.2" />
<text transform="translate(399.4 244.1) scale(1 0.9)" font-size="8.3" fill="#1a1a1a" stroke="#1a1a1a" stroke-width="0.2">Normal</text>
<rect x="371" y="263.4" width="14" height="18.3" fill="#c0c0c0"/>
<text transform="translate(400.8 274.8) scale(1 0.9)" font-size="8.3" fill="#1a1a1a" stroke="#1a1a1a" stroke-width="0.2" word-spacing="1.3">Isotype control</text>
<text transform="translate(596.80 23.00) scale(0.87 1)" font-size="6.6" text-anchor="middle" font-weight="normal" fill="#1a1a1a" stroke="#1a1a1a" stroke-width="0.2">Helios</text>
<line x1="510.00" y1="41.70" x2="510.00" y2="158.20" stroke="#222" stroke-width="1.4"/>
<line x1="509.40" y1="157.60" x2="674.60" y2="157.60" stroke="#222" stroke-width="1.4"/>
<line x1="507.00" y1="157.60" x2="510.00" y2="157.60" stroke="#222" stroke-width="1.0"/>
<line x1="507.00" y1="134.52" x2="510.00" y2="134.52" stroke="#222" stroke-width="1.0"/>
<line x1="507.00" y1="111.44" x2="510.00" y2="111.44" stroke="#222" stroke-width="1.0"/>
<line x1="507.00" y1="88.36" x2="510.00" y2="88.36" stroke="#222" stroke-width="1.0"/>
<line x1="507.00" y1="65.28" x2="510.00" y2="65.28" stroke="#222" stroke-width="1.0"/>
<line x1="507.00" y1="42.20" x2="510.00" y2="42.20" stroke="#222" stroke-width="1.0"/>
<text transform="translate(505.40 160.00) scale(0.87 1)" font-size="6.4" text-anchor="end" font-weight="bold" fill="#1a1a1a">0</text>
<text transform="translate(505.40 136.92) scale(0.87 1)" font-size="6.4" text-anchor="end" font-weight="bold" fill="#1a1a1a">20</text>
<text transform="translate(505.40 113.84) scale(0.87 1)" font-size="6.4" text-anchor="end" font-weight="bold" fill="#1a1a1a">40</text>
<text transform="translate(505.40 90.76) scale(0.87 1)" font-size="6.4" text-anchor="end" font-weight="bold" fill="#1a1a1a">60</text>
<text transform="translate(505.40 67.68) scale(0.87 1)" font-size="6.4" text-anchor="end" font-weight="bold" fill="#1a1a1a">80</text>
<text transform="translate(505.40 44.60) scale(0.87 1)" font-size="6.4" text-anchor="end" font-weight="bold" fill="#1a1a1a">100</text>
<line x1="552.20" y1="157.60" x2="552.20" y2="160.60" stroke="#222" stroke-width="1.0"/>
<text transform="translate(552.20 167.50) scale(0.87 1)" font-size="6.8" text-anchor="middle" font-weight="bold" fill="#1a1a1a">N</text>
<line x1="639.50" y1="157.60" x2="639.50" y2="160.60" stroke="#222" stroke-width="1.0"/>
<text transform="translate(639.50 167.50) scale(0.87 1)" font-size="6.8" text-anchor="middle" font-weight="bold" fill="#1a1a1a">HBV_IP</text>
<text transform="translate(489.40 100.80) rotate(-90) scale(1 1)" font-size="6.0" text-anchor="middle" font-weight="normal" fill="#333">%</text>
<line x1="524.30" y1="60.70" x2="581.80" y2="60.70" stroke="#000" stroke-width="1.5"/>
<line x1="538.60" y1="56.70" x2="567.60" y2="56.70" stroke="#000" stroke-width="1.5"/>
<line x1="538.60" y1="64.80" x2="567.60" y2="64.80" stroke="#000" stroke-width="1.5"/>
<line x1="552.50" y1="56.70" x2="552.50" y2="64.80" stroke="#000" stroke-width="1.5"/>
<circle cx="532.30" cy="53.70" r="2.15"/>
<circle cx="539.20" cy="58.50" r="2.15"/>
<circle cx="545.60" cy="61.00" r="2.15"/>
<circle cx="553.00" cy="60.20" r="2.15"/>
<circle cx="560.00" cy="59.60" r="2.15"/>
<circle cx="567.00" cy="56.40" r="2.15"/>
<circle cx="553.00" cy="67.80" r="2.15"/>
<circle cx="560.00" cy="64.50" r="2.15"/>
<circle cx="546.00" cy="62.80" r="2.15"/>
<line x1="611.10" y1="63.90" x2="668.20" y2="63.90" stroke="#000" stroke-width="1.5"/>
<line x1="625.20" y1="57.10" x2="654.60" y2="57.10" stroke="#000" stroke-width="1.5"/>
<line x1="625.20" y1="70.80" x2="654.60" y2="70.80" stroke="#000" stroke-width="1.5"/>
<line x1="639.60" y1="57.10" x2="639.60" y2="70.80" stroke="#000" stroke-width="1.5"/>
<polygon points="630.05,58.59 634.75,58.59 632.40,54.56"/>
<polygon points="637.35,58.89 642.05,58.89 639.70,54.86"/>
<polygon points="644.05,59.59 648.75,59.59 646.40,55.56"/>
<polygon points="630.05,65.69 634.75,65.69 632.40,61.66"/>
<polygon points="637.35,67.19 642.05,67.19 639.70,63.16"/>
<polygon points="630.05,70.29 634.75,70.29 632.40,66.26"/>
<polygon points="651.15,70.09 655.85,70.09 653.50,66.06"/>
<polygon points="637.35,76.39 642.05,76.39 639.70,72.36"/>
<polygon points="644.05,75.89 648.75,75.89 646.40,71.86"/>
<text transform="translate(113.30 364.30) scale(0.87 1)" font-size="6.6" text-anchor="middle" font-weight="normal" fill="#1a1a1a" stroke="#1a1a1a" stroke-width="0.2">CCR4</text>
<line x1="26.80" y1="374.00" x2="26.80" y2="490.40" stroke="#222" stroke-width="1.4"/>
<line x1="26.20" y1="489.80" x2="199.80" y2="489.80" stroke="#222" stroke-width="1.4"/>
<line x1="23.80" y1="489.80" x2="26.80" y2="489.80" stroke="#222" stroke-width="1.0"/>
<line x1="23.80" y1="466.74" x2="26.80" y2="466.74" stroke="#222" stroke-width="1.0"/>
<line x1="23.80" y1="443.68" x2="26.80" y2="443.68" stroke="#222" stroke-width="1.0"/>
<line x1="23.80" y1="420.62" x2="26.80" y2="420.62" stroke="#222" stroke-width="1.0"/>
<line x1="23.80" y1="397.56" x2="26.80" y2="397.56" stroke="#222" stroke-width="1.0"/>
<line x1="23.80" y1="374.50" x2="26.80" y2="374.50" stroke="#222" stroke-width="1.0"/>
<text transform="translate(22.20 492.20) scale(0.87 1)" font-size="6.8" text-anchor="end" font-weight="bold" fill="#1a1a1a">0</text>
<text transform="translate(22.20 469.14) scale(0.87 1)" font-size="6.8" text-anchor="end" font-weight="bold" fill="#1a1a1a">20</text>
<text transform="translate(22.20 446.08) scale(0.87 1)" font-size="6.8" text-anchor="end" font-weight="bold" fill="#1a1a1a">40</text>
<text transform="translate(22.20 423.02) scale(0.87 1)" font-size="6.8" text-anchor="end" font-weight="bold" fill="#1a1a1a">60</text>
<text transform="translate(22.20 399.96) scale(0.87 1)" font-size="6.8" text-anchor="end" font-weight="bold" fill="#1a1a1a">80</text>
<text transform="translate(22.20 376.90) scale(0.87 1)" font-size="6.8" text-anchor="end" font-weight="bold" fill="#1a1a1a">100</text>
<line x1="69.90" y1="489.80" x2="69.90" y2="492.80" stroke="#222" stroke-width="1.0"/>
<text transform="translate(69.90 499.90) scale(0.87 1)" font-size="7.3" text-anchor="middle" font-weight="bold" fill="#1a1a1a">N</text>
<line x1="156.40" y1="489.80" x2="156.40" y2="492.80" stroke="#222" stroke-width="1.0"/>
<text transform="translate(156.40 499.90) scale(0.87 1)" font-size="7.3" text-anchor="middle" font-weight="bold" fill="#1a1a1a">HBV_IP</text>
<text transform="translate(6.30 432.40) rotate(-90) scale(1 1)" font-size="6.0" text-anchor="middle" font-weight="normal" fill="#333">%</text>
<line x1="41.00" y1="441.00" x2="98.80" y2="441.00" stroke="#646464" stroke-width="1.5"/>
<line x1="56.00" y1="420.50" x2="85.10" y2="420.50" stroke="#000" stroke-width="1.5"/>
<line x1="56.00" y1="461.60" x2="85.10" y2="461.60" stroke="#000" stroke-width="1.5"/>
<line x1="69.90" y1="420.50" x2="69.90" y2="461.60" stroke="#000" stroke-width="1.5"/>
<circle cx="63.00" cy="412.30" r="2.15"/>
<circle cx="69.90" cy="414.10" r="2.15"/>
<circle cx="63.00" cy="431.60" r="2.15"/>
<circle cx="69.90" cy="434.60" r="2.15"/>
<circle cx="76.90" cy="433.70" r="2.15"/>
<circle cx="69.90" cy="451.90" r="2.15"/>
<circle cx="63.00" cy="461.60" r="2.15"/>
<circle cx="76.90" cy="461.60" r="2.15"/>
<circle cx="69.90" cy="466.40" r="2.15"/>
<line x1="127.80" y1="431.00" x2="185.10" y2="431.00" stroke="#3a3a3a" stroke-width="1.5"/>
<line x1="142.40" y1="408.10" x2="171.40" y2="408.10" stroke="#000" stroke-width="1.5"/>
<line x1="142.40" y1="453.90" x2="171.40" y2="453.90" stroke="#000" stroke-width="1.5"/>
<line x1="156.20" y1="408.10" x2="156.20" y2="453.90" stroke="#000" stroke-width="1.5"/>
<polygon points="160.85,394.81 165.55,394.81 163.20,398.84"/>
<polygon points="153.85,398.81 158.55,398.81 156.20,402.84"/>
<polygon points="168.05,401.11 172.75,401.11 170.40,405.14"/>
<polygon points="140.35,402.91 145.05,402.91 142.70,406.94"/>
<polygon points="147.45,404.81 152.15,404.81 149.80,408.84"/>
<polygon points="160.85,403.31 165.55,403.31 163.20,407.34"/>
<polygon points="147.45,409.31 152.15,409.31 149.80,413.34"/>
<polygon points="153.85,413.71 158.55,413.71 156.20,417.74"/>
<polygon points="153.85,421.71 158.55,421.71 156.20,425.74"/>
<polygon points="153.85,424.71 158.55,424.71 156.20,428.74"/>
<polygon points="153.85,431.21 158.55,431.21 156.20,435.24"/>
<polygon points="153.85,444.21 158.55,444.21 156.20,448.24"/>
<polygon points="153.85,452.71 158.55,452.71 156.20,456.74"/>
<polygon points="160.85,411.51 165.55,411.51 163.20,415.54"/>
<polygon points="133.25,418.51 137.95,418.51 135.60,422.54"/>
<polygon points="140.35,420.51 145.05,420.51 142.70,424.54"/>
<polygon points="147.45,422.21 152.15,422.21 149.80,426.24"/>
<polygon points="160.85,422.21 165.55,422.21 163.20,426.24"/>
<polygon points="168.05,419.01 172.75,419.01 170.40,423.04"/>
<polygon points="175.05,418.51 179.75,418.51 177.40,422.54"/>
<polygon points="160.85,433.11 165.55,433.11 163.20,437.14"/>
<polygon points="160.85,439.11 165.55,439.11 163.20,443.14"/>
<polygon points="147.45,441.31 152.15,441.31 149.80,445.34"/>
<polygon points="140.35,447.61 145.05,447.61 142.70,451.64"/>
<polygon points="147.45,451.51 152.15,451.51 149.80,455.54"/>
<polygon points="160.85,452.11 165.55,452.11 163.20,456.14"/>
<polygon points="168.05,451.01 172.75,451.01 170.40,455.04"/>
<polygon points="153.85,467.41 158.55,467.41 156.20,471.44"/>
<polygon points="153.85,475.61 158.55,475.61 156.20,479.64"/>
<polygon points="160.85,473.41 165.55,473.41 163.20,477.44"/>
<text transform="translate(326.50 365.30) scale(0.87 1)" font-size="6.6" text-anchor="middle" font-weight="normal" fill="#1a1a1a" stroke="#1a1a1a" stroke-width="0.2">CCR5</text>
<line x1="240.40" y1="374.40" x2="240.40" y2="491.00" stroke="#222" stroke-width="1.4"/>
<line x1="239.80" y1="490.40" x2="411.40" y2="490.40" stroke="#222" stroke-width="1.4"/>
<line x1="237.40" y1="490.40" x2="240.40" y2="490.40" stroke="#222" stroke-width="1.0"/>
<line x1="237.40" y1="451.90" x2="240.40" y2="451.90" stroke="#222" stroke-width="1.0"/>
<line x1="237.40" y1="413.40" x2="240.40" y2="413.40" stroke="#222" stroke-width="1.0"/>
<line x1="237.40" y1="374.90" x2="240.40" y2="374.90" stroke="#222" stroke-width="1.0"/>
<text transform="translate(235.80 492.80) scale(0.87 1)" font-size="6.8" text-anchor="end" font-weight="bold" fill="#1a1a1a">0</text>
<text transform="translate(235.80 454.30) scale(0.87 1)" font-size="6.8" text-anchor="end" font-weight="bold" fill="#1a1a1a">20</text>
<text transform="translate(235.80 415.80) scale(0.87 1)" font-size="6.8" text-anchor="end" font-weight="bold" fill="#1a1a1a">40</text>
<text transform="translate(235.80 377.30) scale(0.87 1)" font-size="6.8" text-anchor="end" font-weight="bold" fill="#1a1a1a">60</text>
<line x1="283.40" y1="490.40" x2="283.40" y2="493.40" stroke="#222" stroke-width="1.0"/>
<text transform="translate(283.40 500.10) scale(0.87 1)" font-size="7.3" text-anchor="middle" font-weight="bold" fill="#1a1a1a">N</text>
<line x1="369.20" y1="490.40" x2="369.20" y2="493.40" stroke="#222" stroke-width="1.0"/>
<text transform="translate(369.20 500.10) scale(0.87 1)" font-size="7.3" text-anchor="middle" font-weight="bold" fill="#1a1a1a">HBV_IP</text>
<text transform="translate(224.20 432.80) rotate(-90) scale(1 1)" font-size="4.6" text-anchor="middle" font-weight="normal" fill="#333">%</text>
<line x1="283.20" y1="393.20" x2="369.00" y2="393.20" stroke="#555" stroke-width="0.9"/>
<line x1="283.20" y1="390.80" x2="283.20" y2="395.60" stroke="#555" stroke-width="0.9"/>
<line x1="369.00" y1="390.80" x2="369.00" y2="395.60" stroke="#555" stroke-width="0.9"/>
<text transform="translate(315.20 391.42) scale(1 1)" font-size="10" text-anchor="middle" font-weight="bold" fill="#1a1a1a">***</text>
<line x1="255.10" y1="481.60" x2="311.70" y2="481.60" stroke="#000" stroke-width="1.5"/>
<line x1="269.00" y1="476.40" x2="298.10" y2="476.40" stroke="#000" stroke-width="1.5"/>
<line x1="269.00" y1="486.90" x2="298.10" y2="486.90" stroke="#000" stroke-width="1.5"/>
<line x1="283.60" y1="476.40" x2="283.60" y2="486.90" stroke="#000" stroke-width="1.5"/>
<circle cx="269.50" cy="476.60" r="2.15"/>
<circle cx="283.60" cy="473.70" r="2.15"/>
<circle cx="290.80" cy="478.00" r="2.15"/>
<circle cx="276.40" cy="480.50" r="2.15"/>
<circle cx="283.60" cy="481.80" r="2.15"/>
<circle cx="276.40" cy="484.30" r="2.15"/>
<circle cx="283.60" cy="488.20" r="2.15"/>
<circle cx="290.80" cy="486.90" r="2.15"/>
<line x1="340.70" y1="449.30" x2="397.70" y2="449.30" stroke="#000" stroke-width="1.5"/>
<line x1="354.90" y1="424.60" x2="384.10" y2="424.60" stroke="#000" stroke-width="1.5"/>
<line x1="354.90" y1="473.80" x2="384.10" y2="473.80" stroke="#000" stroke-width="1.5"/>
<line x1="369.00" y1="424.60" x2="369.00" y2="473.80" stroke="#000" stroke-width="1.5"/>
<polygon points="366.65,391.31 371.35,391.31 369.00,395.34"/>
<polygon points="366.65,403.31 371.35,403.31 369.00,407.34"/>
<polygon points="374.05,406.41 378.75,406.41 376.40,410.44"/>
<polygon points="359.95,409.31 364.65,409.31 362.30,413.34"/>
<polygon points="366.65,412.61 371.35,412.61 369.00,416.64"/>
<polygon points="366.65,422.11 371.35,422.11 369.00,426.14"/>
<polygon points="359.95,436.41 364.65,436.41 362.30,440.44"/>
<polygon points="359.95,440.51 364.65,440.51 362.30,444.54"/>
<polygon points="366.65,437.21 371.35,437.21 369.00,441.24"/>
<polygon points="374.05,443.81 378.75,443.81 376.40,447.84"/>
<polygon points="366.65,445.41 371.35,445.41 369.00,449.44"/>
<polygon points="353.05,447.11 357.75,447.11 355.40,451.14"/>
<polygon points="380.95,447.11 385.65,447.11 383.30,451.14"/>
<polygon points="374.05,449.51 378.75,449.51 376.40,453.54"/>
<polygon points="359.95,452.01 364.65,452.01 362.30,456.04"/>
<polygon points="366.65,452.81 371.35,452.81 369.00,456.84"/>
<polygon points="353.05,460.21 357.75,460.21 355.40,464.24"/>
<polygon points="380.95,461.01 385.65,461.01 383.30,465.04"/>
<polygon points="387.45,459.71 392.15,459.71 389.80,463.74"/>
<polygon points="359.95,463.11 364.65,463.11 362.30,467.14"/>
<polygon points="374.05,463.41 378.75,463.41 376.40,467.44"/>
<polygon points="366.65,465.11 371.35,465.11 369.00,469.14"/>
<polygon points="353.05,468.41 357.75,468.41 355.40,472.44"/>
<polygon points="359.95,471.31 364.65,471.31 362.30,475.34"/>
<polygon points="374.05,470.01 378.75,470.01 376.40,474.04"/>
<polygon points="366.65,473.31 371.35,473.31 369.00,477.34"/>
<polygon points="374.05,476.61 378.75,476.61 376.40,480.64"/>
<polygon points="366.65,482.31 371.35,482.31 369.00,486.34"/>
<text transform="translate(543.60 363.00) scale(0.87 1)" font-size="6.6" text-anchor="middle" font-weight="normal" fill="#1a1a1a" stroke="#1a1a1a" stroke-width="0.2">CCR7</text>
<line x1="457.40" y1="373.30" x2="457.40" y2="489.10" stroke="#222" stroke-width="1.4"/>
<line x1="456.80" y1="488.50" x2="628.70" y2="488.50" stroke="#222" stroke-width="1.4"/>
<line x1="454.40" y1="488.50" x2="457.40" y2="488.50" stroke="#222" stroke-width="1.0"/>
<line x1="454.40" y1="465.56" x2="457.40" y2="465.56" stroke="#222" stroke-width="1.0"/>
<line x1="454.40" y1="442.62" x2="457.40" y2="442.62" stroke="#222" stroke-width="1.0"/>
<line x1="454.40" y1="419.68" x2="457.40" y2="419.68" stroke="#222" stroke-width="1.0"/>
<line x1="454.40" y1="396.74" x2="457.40" y2="396.74" stroke="#222" stroke-width="1.0"/>
<line x1="454.40" y1="373.80" x2="457.40" y2="373.80" stroke="#222" stroke-width="1.0"/>
<text transform="translate(452.80 490.90) scale(0.87 1)" font-size="6.8" text-anchor="end" font-weight="bold" fill="#1a1a1a">0</text>
<text transform="translate(452.80 467.96) scale(0.87 1)" font-size="6.8" text-anchor="end" font-weight="bold" fill="#1a1a1a">10</text>
<text transform="translate(452.80 445.02) scale(0.87 1)" font-size="6.8" text-anchor="end" font-weight="bold" fill="#1a1a1a">20</text>
<text transform="translate(452.80 422.08) scale(0.87 1)" font-size="6.8" text-anchor="end" font-weight="bold" fill="#1a1a1a">30</text>
<text transform="translate(452.80 399.14) scale(0.87 1)" font-size="6.8" text-anchor="end" font-weight="bold" fill="#1a1a1a">40</text>
<text transform="translate(452.80 376.20) scale(0.87 1)" font-size="6.8" text-anchor="end" font-weight="bold" fill="#1a1a1a">50</text>
<line x1="500.40" y1="488.50" x2="500.40" y2="491.50" stroke="#222" stroke-width="1.0"/>
<text transform="translate(500.40 498.90) scale(0.87 1)" font-size="7.3" text-anchor="middle" font-weight="bold" fill="#1a1a1a">Normal</text>
<line x1="586.70" y1="488.50" x2="586.70" y2="491.50" stroke="#222" stroke-width="1.0"/>
<text transform="translate(586.70 498.90) scale(0.87 1)" font-size="7.3" text-anchor="middle" font-weight="bold" fill="#1a1a1a">HBV_IP</text>
<text transform="translate(440.70 431.90) rotate(-90) scale(1 1)" font-size="6.0" text-anchor="middle" font-weight="normal" fill="#333">%</text>
<line x1="471.90" y1="455.70" x2="528.60" y2="455.70" stroke="#000" stroke-width="1.5"/>
<line x1="486.50" y1="434.40" x2="515.50" y2="434.40" stroke="#000" stroke-width="1.5"/>
<line x1="486.50" y1="477.00" x2="515.50" y2="477.00" stroke="#000" stroke-width="1.5"/>
<line x1="500.40" y1="434.40" x2="500.40" y2="477.00" stroke="#000" stroke-width="1.5"/>
<circle cx="493.20" cy="390.30" r="2.15"/>
<circle cx="500.40" cy="391.70" r="2.15"/>
<circle cx="500.40" cy="424.20" r="2.15"/>
<circle cx="500.40" cy="433.30" r="2.15"/>
<circle cx="486.50" cy="446.10" r="2.15"/>
<circle cx="493.20" cy="449.70" r="2.15"/>
<circle cx="500.40" cy="449.70" r="2.15"/>
<circle cx="507.20" cy="449.70" r="2.15"/>
<circle cx="514.10" cy="449.00" r="2.15"/>
<circle cx="520.90" cy="451.30" r="2.15"/>
<circle cx="479.70" cy="453.20" r="2.15"/>
<circle cx="486.50" cy="454.80" r="2.15"/>
<circle cx="514.10" cy="453.20" r="2.15"/>
<circle cx="493.20" cy="457.50" r="2.15"/>
<circle cx="500.40" cy="457.50" r="2.15"/>
<circle cx="507.20" cy="456.50" r="2.15"/>
<circle cx="486.50" cy="461.00" r="2.15"/>
<circle cx="520.90" cy="460.60" r="2.15"/>
<circle cx="493.20" cy="464.80" r="2.15"/>
<circle cx="500.40" cy="464.80" r="2.15"/>
<circle cx="507.20" cy="464.80" r="2.15"/>
<circle cx="514.10" cy="464.80" r="2.15"/>
<circle cx="486.50" cy="467.30" r="2.15"/>
<circle cx="507.20" cy="467.70" r="2.15"/>
<circle cx="514.10" cy="466.80" r="2.15"/>
<circle cx="493.20" cy="470.30" r="2.15"/>
<circle cx="500.40" cy="472.20" r="2.15"/>
<circle cx="486.50" cy="474.50" r="2.15"/>
<circle cx="493.20" cy="477.40" r="2.15"/>
<circle cx="514.10" cy="477.00" r="2.15"/>
<circle cx="500.40" cy="481.30" r="2.15"/>
<circle cx="507.20" cy="481.30" r="2.15"/>
<line x1="558.00" y1="460.20" x2="614.40" y2="460.20" stroke="#000" stroke-width="1.5"/>
<line x1="572.40" y1="438.10" x2="601.00" y2="438.10" stroke="#000" stroke-width="1.5"/>
<line x1="572.40" y1="481.10" x2="601.00" y2="481.10" stroke="#000" stroke-width="1.5"/>
<line x1="586.70" y1="438.10" x2="586.70" y2="481.10" stroke="#000" stroke-width="1.5"/>
<polygon points="584.33,389.84 589.03,389.84 586.68,393.87"/>
<polygon points="577.17,396.10 581.87,396.10 579.52,400.13"/>
<polygon points="584.33,400.57 589.03,400.57 586.68,404.61"/>
<polygon points="590.95,414.89 595.65,414.89 593.30,418.92"/>
<polygon points="584.33,417.57 589.03,417.57 586.68,421.60"/>
<polygon points="577.17,422.58 581.87,422.58 579.52,426.61"/>
<polygon points="584.33,429.20 589.03,429.20 586.68,433.23"/>
<polygon points="570.37,435.82 575.08,435.82 572.72,439.85"/>
<polygon points="598.28,435.82 602.99,435.82 600.64,439.85"/>
<polygon points="604.90,435.46 609.61,435.46 607.26,439.50"/>
<polygon points="577.17,439.94 581.87,439.94 579.52,443.97"/>
<polygon points="590.95,439.94 595.65,439.94 593.30,443.97"/>
<polygon points="584.33,439.94 589.03,439.94 586.68,443.97"/>
<polygon points="577.17,445.84 581.87,445.84 579.52,449.87"/>
<polygon points="590.95,445.84 595.65,445.84 593.30,449.87"/>
<polygon points="584.33,445.84 589.03,445.84 586.68,449.87"/>
<polygon points="570.37,450.67 575.08,450.67 572.72,454.70"/>
<polygon points="577.17,451.21 581.87,451.21 579.52,455.24"/>
<polygon points="584.33,451.57 589.03,451.57 586.68,455.60"/>
<polygon points="590.95,451.57 595.65,451.57 593.30,455.60"/>
<polygon points="598.28,451.21 602.99,451.21 600.64,455.24"/>
<polygon points="604.90,448.88 609.61,448.88 607.26,452.91"/>
<polygon points="573.95,456.58 578.65,456.58 576.30,460.61"/>
<polygon points="587.91,457.83 592.61,457.83 590.26,461.86"/>
<polygon points="584.33,456.93 589.03,456.93 586.68,460.97"/>
<polygon points="559.81,461.94 564.52,461.94 562.17,465.98"/>
<polygon points="566.79,460.87 571.50,460.87 569.14,464.90"/>
<polygon points="573.95,460.87 578.65,460.87 576.30,464.90"/>
<polygon points="580.93,460.87 585.63,460.87 583.28,464.90"/>
<polygon points="587.91,460.87 592.61,460.87 590.26,464.90"/>
<polygon points="594.70,460.87 599.41,460.87 597.06,464.90"/>
<polygon points="601.68,460.87 606.39,460.87 604.03,464.90"/>
<polygon points="604.90,460.15 609.61,460.15 607.26,464.19"/>
<polygon points="563.21,464.99 567.92,464.99 565.57,469.02"/>
<polygon points="570.37,464.09 575.08,464.09 572.72,468.12"/>
<polygon points="577.35,464.09 582.05,464.09 579.70,468.12"/>
<polygon points="584.33,465.88 589.03,465.88 586.68,469.91"/>
<polygon points="591.31,464.09 596.01,464.09 593.66,468.12"/>
<polygon points="598.28,464.09 602.99,464.09 600.64,468.12"/>
<polygon points="604.90,464.09 609.61,464.09 607.26,468.12"/>
<polygon points="608.48,464.09 613.19,464.09 610.83,468.12"/>
<polygon points="559.81,467.31 564.52,467.31 562.17,471.34"/>
<polygon points="566.79,467.67 571.50,467.67 569.14,471.70"/>
<polygon points="573.95,467.67 578.65,467.67 576.30,471.70"/>
<polygon points="580.93,467.67 585.63,467.67 583.28,471.70"/>
<polygon points="587.91,467.67 592.61,467.67 590.26,471.70"/>
<polygon points="594.70,467.67 599.41,467.67 597.06,471.70"/>
<polygon points="601.68,467.67 606.39,467.67 604.03,471.70"/>
<polygon points="559.81,471.25 564.52,471.25 562.17,475.28"/>
<polygon points="570.37,471.25 575.08,471.25 572.72,475.28"/>
<polygon points="577.35,471.25 582.05,471.25 579.70,475.28"/>
<polygon points="584.33,471.25 589.03,471.25 586.68,475.28"/>
<polygon points="591.31,471.25 596.01,471.25 593.66,475.28"/>
<polygon points="598.28,471.25 602.99,471.25 600.64,475.28"/>
<polygon points="604.90,471.25 609.61,471.25 607.26,475.28"/>
<polygon points="563.21,476.26 567.92,476.26 565.57,480.29"/>
<polygon points="570.37,475.72 575.08,475.72 572.72,479.75"/>
<polygon points="577.35,475.72 582.05,475.72 579.70,479.75"/>
<polygon points="584.33,475.72 589.03,475.72 586.68,479.75"/>
<polygon points="591.31,475.72 596.01,475.72 593.66,479.75"/>
<polygon points="598.28,475.72 602.99,475.72 600.64,479.75"/>
<polygon points="604.90,476.62 609.61,476.62 607.26,480.65"/>
<polygon points="570.37,479.30 575.08,479.30 572.72,483.33"/>
<polygon points="577.35,479.30 582.05,479.30 579.70,483.33"/>
<polygon points="584.33,479.30 589.03,479.30 586.68,483.33"/>
<polygon points="591.31,479.30 596.01,479.30 593.66,483.33"/>
<polygon points="598.28,479.30 602.99,479.30 600.64,483.33"/>
<polygon points="577.35,482.88 582.05,482.88 579.70,486.91"/>
<polygon points="584.33,484.67 589.03,484.67 586.68,488.70"/>
<polygon points="591.31,482.88 596.01,482.88 593.66,486.91"/>
<text transform="translate(110.90 530.10) scale(0.87 1)" font-size="6.6" text-anchor="middle" font-weight="normal" fill="#1a1a1a" stroke="#1a1a1a" stroke-width="0.2">Ki67</text>
<line x1="28.90" y1="542.60" x2="28.90" y2="658.50" stroke="#222" stroke-width="1.4"/>
<line x1="28.30" y1="657.90" x2="200.80" y2="657.90" stroke="#222" stroke-width="1.4"/>
<line x1="25.90" y1="657.90" x2="28.90" y2="657.90" stroke="#222" stroke-width="1.0"/>
<line x1="25.90" y1="634.94" x2="28.90" y2="634.94" stroke="#222" stroke-width="1.0"/>
<line x1="25.90" y1="611.98" x2="28.90" y2="611.98" stroke="#222" stroke-width="1.0"/>
<line x1="25.90" y1="589.02" x2="28.90" y2="589.02" stroke="#222" stroke-width="1.0"/>
<line x1="25.90" y1="566.06" x2="28.90" y2="566.06" stroke="#222" stroke-width="1.0"/>
<line x1="25.90" y1="543.10" x2="28.90" y2="543.10" stroke="#222" stroke-width="1.0"/>
<text transform="translate(24.30 660.30) scale(0.87 1)" font-size="6.8" text-anchor="end" font-weight="bold" fill="#1a1a1a">0</text>
<text transform="translate(24.30 637.34) scale(0.87 1)" font-size="6.8" text-anchor="end" font-weight="bold" fill="#1a1a1a">10</text>
<text transform="translate(24.30 614.38) scale(0.87 1)" font-size="6.8" text-anchor="end" font-weight="bold" fill="#1a1a1a">20</text>
<text transform="translate(24.30 591.42) scale(0.87 1)" font-size="6.8" text-anchor="end" font-weight="bold" fill="#1a1a1a">30</text>
<text transform="translate(24.30 568.46) scale(0.87 1)" font-size="6.8" text-anchor="end" font-weight="bold" fill="#1a1a1a">40</text>
<text transform="translate(24.30 545.50) scale(0.87 1)" font-size="6.8" text-anchor="end" font-weight="bold" fill="#1a1a1a">50</text>
<line x1="72.20" y1="657.90" x2="72.20" y2="660.90" stroke="#222" stroke-width="1.0"/>
<text transform="translate(72.20 668.10) scale(0.87 1)" font-size="7.3" text-anchor="middle" font-weight="bold" fill="#1a1a1a">N</text>
<line x1="158.20" y1="657.90" x2="158.20" y2="660.90" stroke="#222" stroke-width="1.0"/>
<text transform="translate(158.20 668.10) scale(0.87 1)" font-size="7.3" text-anchor="middle" font-weight="bold" fill="#1a1a1a">HBV_IP</text>
<text transform="translate(12.60 601.30) rotate(-90) scale(1 1)" font-size="6.0" text-anchor="middle" font-weight="normal" fill="#333">%</text>
<line x1="69.80" y1="561.30" x2="156.50" y2="561.30" stroke="#111" stroke-width="1.0"/>
<line x1="69.80" y1="558.90" x2="69.80" y2="563.70" stroke="#111" stroke-width="1.0"/>
<line x1="156.50" y1="558.90" x2="156.50" y2="563.70" stroke="#111" stroke-width="1.0"/>
<text transform="translate(103.70 559.82) scale(1 1)" font-size="10" text-anchor="middle" font-weight="bold" fill="#1a1a1a">**</text>
<line x1="43.30" y1="640.70" x2="100.20" y2="640.70" stroke="#555" stroke-width="1.5"/>
<line x1="58.00" y1="631.30" x2="86.60" y2="631.30" stroke="#000" stroke-width="1.5"/>
<line x1="58.00" y1="650.10" x2="86.60" y2="650.10" stroke="#000" stroke-width="1.5"/>
<line x1="72.20" y1="631.30" x2="72.20" y2="650.10" stroke="#000" stroke-width="1.5"/>
<circle cx="79.00" cy="628.70" r="2.15"/>
<circle cx="72.20" cy="633.70" r="2.15"/>
<circle cx="79.00" cy="635.70" r="2.15"/>
<circle cx="65.20" cy="640.70" r="2.15"/>
<circle cx="72.20" cy="641.80" r="2.15"/>
<circle cx="79.00" cy="651.00" r="2.15"/>
<circle cx="72.20" cy="654.30" r="2.15"/>
<line x1="129.30" y1="622.80" x2="186.30" y2="622.80" stroke="#555" stroke-width="1.5"/>
<line x1="144.00" y1="606.80" x2="172.50" y2="606.80" stroke="#000" stroke-width="1.5"/>
<line x1="144.00" y1="638.50" x2="172.50" y2="638.50" stroke="#000" stroke-width="1.5"/>
<line x1="158.20" y1="606.80" x2="158.20" y2="638.50" stroke="#000" stroke-width="1.5"/>
<polygon points="155.85,568.41 160.55,568.41 158.20,572.44"/>
<polygon points="162.45,594.01 167.15,594.01 164.80,598.04"/>
<polygon points="155.85,597.81 160.55,597.81 158.20,601.84"/>
<polygon points="148.85,607.21 153.55,607.21 151.20,611.24"/>
<polygon points="155.85,608.31 160.55,608.31 158.20,612.34"/>
<polygon points="162.45,606.51 167.15,606.51 164.80,610.54"/>
<polygon points="134.65,612.61 139.35,612.61 137.00,616.64"/>
<polygon points="176.05,613.11 180.75,613.11 178.40,617.14"/>
<polygon points="141.65,615.91 146.35,615.91 144.00,619.94"/>
<polygon points="148.85,617.01 153.55,617.01 151.20,621.04"/>
<polygon points="155.85,617.01 160.55,617.01 158.20,621.04"/>
<polygon points="162.45,617.51 167.15,617.51 164.80,621.54"/>
<polygon points="169.05,617.01 173.75,617.01 171.40,621.04"/>
<polygon points="144.95,621.41 149.65,621.41 147.30,625.44"/>
<polygon points="151.55,621.41 156.25,621.41 153.90,625.44"/>
<polygon points="155.85,621.81 160.55,621.81 158.20,625.84"/>
<polygon points="134.65,625.81 139.35,625.81 137.00,629.84"/>
<polygon points="141.65,626.21 146.35,626.21 144.00,630.24"/>
<polygon points="148.85,625.81 153.55,625.81 151.20,629.84"/>
<polygon points="155.85,626.21 160.55,626.21 158.20,630.24"/>
<polygon points="162.45,626.41 167.15,626.41 164.80,630.44"/>
<polygon points="169.05,625.81 173.75,625.81 171.40,629.84"/>
<polygon points="176.05,625.31 180.75,625.31 178.40,629.34"/>
<polygon points="141.65,630.21 146.35,630.21 144.00,634.24"/>
<polygon points="148.85,630.61 153.55,630.61 151.20,634.64"/>
<polygon points="155.85,630.61 160.55,630.61 158.20,634.64"/>
<polygon points="162.45,633.41 167.15,633.41 164.80,637.44"/>
<polygon points="169.05,630.21 173.75,630.21 171.40,634.24"/>
<polygon points="176.05,629.71 180.75,629.71 178.40,633.74"/>
<polygon points="155.85,634.51 160.55,634.51 158.20,638.54"/>
<polygon points="155.85,642.21 160.55,642.21 158.20,646.24"/>
<polygon points="155.85,655.31 160.55,655.31 158.20,659.34"/>
<text transform="translate(328.10 531.20) scale(0.87 1)" font-size="6.6" text-anchor="middle" font-weight="normal" fill="#1a1a1a" stroke="#1a1a1a" stroke-width="0.2">Tim-3</text>
<line x1="241.90" y1="538.20" x2="241.90" y2="653.10" stroke="#222" stroke-width="1.4"/>
<line x1="241.30" y1="652.50" x2="413.10" y2="652.50" stroke="#222" stroke-width="1.4"/>
<line x1="238.90" y1="652.50" x2="241.90" y2="652.50" stroke="#222" stroke-width="1.0"/>
<line x1="238.90" y1="614.57" x2="241.90" y2="614.57" stroke="#222" stroke-width="1.0"/>
<line x1="238.90" y1="576.63" x2="241.90" y2="576.63" stroke="#222" stroke-width="1.0"/>
<line x1="238.90" y1="538.70" x2="241.90" y2="538.70" stroke="#222" stroke-width="1.0"/>
<text transform="translate(237.30 654.90) scale(0.87 1)" font-size="6.8" text-anchor="end" font-weight="bold" fill="#1a1a1a">0</text>
<text transform="translate(237.30 616.97) scale(0.87 1)" font-size="6.8" text-anchor="end" font-weight="bold" fill="#1a1a1a">20</text>
<text transform="translate(237.30 579.03) scale(0.87 1)" font-size="6.8" text-anchor="end" font-weight="bold" fill="#1a1a1a">40</text>
<text transform="translate(237.30 541.10) scale(0.87 1)" font-size="6.8" text-anchor="end" font-weight="bold" fill="#1a1a1a">60</text>
<line x1="284.60" y1="652.50" x2="284.60" y2="655.50" stroke="#222" stroke-width="1.0"/>
<text transform="translate(284.60 662.50) scale(0.87 1)" font-size="6.3" text-anchor="middle" font-weight="bold" fill="#333">N</text>
<line x1="371.20" y1="652.50" x2="371.20" y2="655.50" stroke="#222" stroke-width="1.0"/>
<text transform="translate(371.20 662.50) scale(0.87 1)" font-size="6.3" text-anchor="middle" font-weight="bold" fill="#333">HBV_IP</text>
<text transform="translate(226.10 596.60) rotate(-90) scale(1 1)" font-size="6.0" text-anchor="middle" font-weight="normal" fill="#333">%</text>
<line x1="289.10" y1="549.30" x2="371.20" y2="549.30" stroke="#111" stroke-width="1.0"/>
<line x1="289.10" y1="546.90" x2="289.10" y2="551.70" stroke="#111" stroke-width="1.0"/>
<line x1="371.20" y1="546.90" x2="371.20" y2="551.70" stroke="#111" stroke-width="1.0"/>
<text transform="translate(325.00 551.27) scale(1 1)" font-size="8.5" text-anchor="middle" font-weight="bold" fill="#1a1a1a">*</text>
<line x1="263.30" y1="645.00" x2="306.50" y2="645.00" stroke="#555" stroke-width="1.5"/>
<line x1="274.50" y1="639.60" x2="295.10" y2="639.60" stroke="#000" stroke-width="1.5"/>
<line x1="274.50" y1="649.00" x2="295.10" y2="649.00" stroke="#000" stroke-width="1.5"/>
<line x1="284.60" y1="639.60" x2="284.60" y2="649.00" stroke="#000" stroke-width="1.5"/>
<circle cx="274.20" cy="635.80" r="2.15"/>
<circle cx="281.20" cy="636.40" r="2.15"/>
<circle cx="288.10" cy="636.00" r="2.15"/>
<circle cx="298.70" cy="638.00" r="2.15"/>
<circle cx="271.00" cy="641.70" r="2.15"/>
<circle cx="277.50" cy="642.40" r="2.15"/>
<circle cx="284.10" cy="642.00" r="2.15"/>
<circle cx="291.40" cy="642.40" r="2.15"/>
<circle cx="267.30" cy="646.10" r="2.15"/>
<circle cx="271.00" cy="648.60" r="2.15"/>
<circle cx="274.60" cy="647.90" r="2.15"/>
<circle cx="277.50" cy="648.60" r="2.15"/>
<circle cx="281.20" cy="647.90" r="2.15"/>
<circle cx="284.10" cy="647.20" r="2.15"/>
<circle cx="287.70" cy="647.90" r="2.15"/>
<circle cx="291.40" cy="648.60" r="2.15"/>
<circle cx="295.00" cy="648.20" r="2.15"/>
<circle cx="298.70" cy="648.60" r="2.15"/>
<circle cx="302.30" cy="648.20" r="2.15"/>
<circle cx="277.50" cy="651.20" r="2.15"/>
<circle cx="284.10" cy="651.20" r="2.15"/>
<circle cx="291.40" cy="651.20" r="2.15"/>
<line x1="349.50" y1="634.20" x2="391.40" y2="634.20" stroke="#000" stroke-width="1.5"/>
<line x1="360.10" y1="615.70" x2="381.90" y2="615.70" stroke="#000" stroke-width="1.5"/>
<line x1="360.10" y1="652.50" x2="381.90" y2="652.50" stroke="#000" stroke-width="1.5"/>
<line x1="371.20" y1="615.70" x2="371.20" y2="652.50" stroke="#000" stroke-width="1.5"/>
<polygon points="368.85,552.51 373.55,552.51 371.20,556.54"/>
<polygon points="375.25,590.51 379.95,590.51 377.60,594.54"/>
<polygon points="368.35,594.21 373.05,594.21 370.70,598.24"/>
<polygon points="354.75,600.51 359.45,600.51 357.10,604.54"/>
<polygon points="382.35,600.51 387.05,600.51 384.70,604.54"/>
<polygon points="361.65,603.11 366.35,603.11 364.00,607.14"/>
<polygon points="368.35,603.51 373.05,603.51 370.70,607.54"/>
<polygon points="375.25,602.81 379.95,602.81 377.60,606.84"/>
<polygon points="361.65,606.11 366.35,606.11 364.00,610.14"/>
<polygon points="375.25,607.61 379.95,607.61 377.60,611.64"/>
<polygon points="368.35,610.61 373.05,610.61 370.70,614.64"/>
<polygon points="365.05,618.81 369.75,618.81 367.40,622.84"/>
<polygon points="371.95,618.81 376.65,618.81 374.30,622.84"/>
<polygon points="354.75,621.81 359.45,621.81 357.10,625.84"/>
<polygon points="361.65,623.71 366.35,623.71 364.00,627.74"/>
<polygon points="368.35,624.61 373.05,624.61 370.70,628.64"/>
<polygon points="375.25,623.71 379.95,623.71 377.60,627.74"/>
<polygon points="382.35,621.01 387.05,621.01 384.70,625.04"/>
<polygon points="358.05,629.01 362.75,629.01 360.40,633.04"/>
<polygon points="385.65,628.51 390.35,628.51 388.00,632.54"/>
<polygon points="365.05,630.71 369.75,630.71 367.40,634.74"/>
<polygon points="371.95,631.31 376.65,631.31 374.30,635.34"/>
<polygon points="378.65,630.71 383.35,630.71 381.00,634.74"/>
<polygon points="354.75,631.51 359.45,631.51 357.10,635.54"/>
<polygon points="361.65,632.41 366.35,632.41 364.00,636.44"/>
<polygon points="382.35,632.41 387.05,632.41 384.70,636.44"/>
<polygon points="358.05,635.71 362.75,635.71 360.40,639.74"/>
<polygon points="365.05,637.81 369.75,637.81 367.40,641.84"/>
<polygon points="371.95,637.81 376.65,637.81 374.30,641.84"/>
<polygon points="378.65,634.81 383.35,634.81 381.00,638.84"/>
<polygon points="382.35,637.81 387.05,637.81 384.70,641.84"/>
<polygon points="354.75,639.11 359.45,639.11 357.10,643.14"/>
<polygon points="375.25,639.11 379.95,639.11 377.60,643.14"/>
<polygon points="352.15,642.71 356.85,642.71 354.50,646.74"/>
<polygon points="359.35,642.71 364.05,642.71 361.70,646.74"/>
<polygon points="366.95,642.71 371.65,642.71 369.30,646.74"/>
<polygon points="369.65,642.71 374.35,642.71 372.00,646.74"/>
<polygon points="375.85,642.71 380.55,642.71 378.20,646.74"/>
<polygon points="383.35,642.71 388.05,642.71 385.70,646.74"/>
<polygon points="350.45,644.81 355.15,644.81 352.80,648.84"/>
<polygon points="354.55,644.81 359.25,644.81 356.90,648.84"/>
<polygon points="358.05,644.81 362.75,644.81 360.40,648.84"/>
<polygon points="362.15,644.81 366.85,644.81 364.50,648.84"/>
<polygon points="365.55,644.81 370.25,644.81 367.90,648.84"/>
<polygon points="368.25,644.81 372.95,644.81 370.60,648.84"/>
<polygon points="371.75,644.81 376.45,644.81 374.10,648.84"/>
<polygon points="375.15,644.81 379.85,644.81 377.50,648.84"/>
<polygon points="379.25,644.81 383.95,644.81 381.60,648.84"/>
<polygon points="384.05,644.81 388.75,644.81 386.40,648.84"/>
<polygon points="386.85,644.81 391.55,644.81 389.20,648.84"/>
<polygon points="351.15,646.91 355.85,646.91 353.50,650.94"/>
<polygon points="355.25,646.91 359.95,646.91 357.60,650.94"/>
<polygon points="358.65,646.91 363.35,646.91 361.00,650.94"/>
<polygon points="362.85,646.91 367.55,646.91 365.20,650.94"/>
<polygon points="366.25,646.91 370.95,646.91 368.60,650.94"/>
<polygon points="368.55,646.91 373.25,646.91 370.90,650.94"/>
<polygon points="371.05,646.91 375.75,646.91 373.40,650.94"/>
<polygon points="374.45,646.91 379.15,646.91 376.80,650.94"/>
<polygon points="377.95,646.91 382.65,646.91 380.30,650.94"/>
<polygon points="381.35,646.91 386.05,646.91 383.70,650.94"/>
<polygon points="385.45,646.91 390.15,646.91 387.80,650.94"/>
<polygon points="352.55,648.51 357.25,648.51 354.90,652.54"/>
<polygon points="356.65,648.51 361.35,648.51 359.00,652.54"/>
<polygon points="360.75,648.51 365.45,648.51 363.10,652.54"/>
<polygon points="364.85,648.51 369.55,648.51 367.20,652.54"/>
<polygon points="368.25,648.51 372.95,648.51 370.60,652.54"/>
<polygon points="371.75,648.51 376.45,648.51 374.10,652.54"/>
<polygon points="375.85,648.51 380.55,648.51 378.20,652.54"/>
<polygon points="379.95,648.51 384.65,648.51 382.30,652.54"/>
<polygon points="384.05,648.51 388.75,648.51 386.40,652.54"/>
<polygon points="368.25,641.01 372.95,641.01 370.60,645.04"/>
<polygon points="353.85,638.91 358.55,638.91 356.20,642.94"/>
<polygon points="361.05,638.91 365.75,638.91 363.40,642.94"/>
<polygon points="368.25,638.91 372.95,638.91 370.60,642.94"/>
</svg>
</body></html>
